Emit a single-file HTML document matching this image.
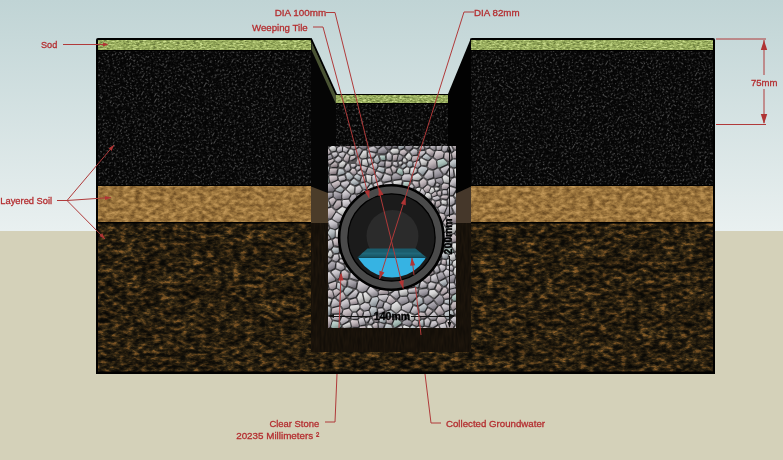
<!DOCTYPE html>
<html><head><meta charset="utf-8">
<style>
html,body{margin:0;padding:0;width:783px;height:460px;overflow:hidden;background:#d4d1b9;}
svg{display:block;}
text{font-family:"Liberation Sans",sans-serif;}
.lb{font-size:9.6px;fill:#b42e30;stroke:#b42e30;stroke-width:0.3;}
.rl{stroke:#b03a3a;stroke-width:1;fill:none;}
.ah{fill:#b03434;}
.bk{font-size:10px;font-weight:bold;fill:#000;stroke:#000;stroke-width:0.35;}
</style></head><body>
<svg width="783" height="460" viewBox="0 0 783 460">
<defs>
<linearGradient id="sky" x1="0" y1="0" x2="0" y2="1">
<stop offset="0" stop-color="#c0d4d5"/>
<stop offset="1" stop-color="#e9f0f0"/>
</linearGradient>
<filter id="fBlack" x="0" y="0" width="100%" height="100%" filterUnits="objectBoundingBox" color-interpolation-filters="sRGB">
 <feTurbulence type="fractalNoise" baseFrequency="0.6" numOctaves="1" seed="9" result="n"/>
 <feColorMatrix in="n" type="matrix" values="3 0 0 0 -1.1  3 0 0 0 -1.1  3 0 0 0 -1.1  0 0 0 0 1"/>
 <feComponentTransfer>
  <feFuncR type="table" tableValues="0.018 0.02 0.025 0.035 0.08 0.18 0.30"/>
  <feFuncG type="table" tableValues="0.018 0.02 0.025 0.035 0.08 0.18 0.30"/>
  <feFuncB type="table" tableValues="0.018 0.02 0.025 0.035 0.08 0.18 0.30"/>
 </feComponentTransfer>
 <feGaussianBlur stdDeviation="0.6"/>
</filter>
<filter id="fBrown" x="0" y="0" width="100%" height="100%" color-interpolation-filters="sRGB">
 <feTurbulence type="fractalNoise" baseFrequency="0.15 0.26" numOctaves="3" seed="11" result="n"/>
 <feColorMatrix in="n" type="matrix" values="1.9 0 0 0 -0.45  1.9 0 0 0 -0.45  1.9 0 0 0 -0.45  0 0 0 0 1"/>
 <feComponentTransfer>
  <feFuncR type="table" tableValues="0.05 0.07 0.10 0.14 0.19 0.25 0.34 0.44"/>
  <feFuncG type="table" tableValues="0.045 0.06 0.08 0.11 0.145 0.185 0.24 0.30"/>
  <feFuncB type="table" tableValues="0.03 0.035 0.045 0.055 0.07 0.085 0.11 0.13"/>
 </feComponentTransfer>
 <feGaussianBlur stdDeviation="0.7" result="t"/>
 <feTurbulence type="fractalNoise" baseFrequency="0.05 0.07" numOctaves="2" seed="21" result="m"/>
 <feColorMatrix in="m" type="matrix" values="0.8 0 0 0 0.3  0.8 0 0 0 0.3  0.8 0 0 0 0.3  0 0 0 0 1" result="m2"/>
 <feComposite in="t" in2="m2" operator="arithmetic" k1="1.42" k2="0" k3="0" k4="0"/>
</filter>
<filter id="fWood" x="0" y="0" width="100%" height="100%" color-interpolation-filters="sRGB">
 <feTurbulence type="fractalNoise" baseFrequency="0.5 0.08" numOctaves="2" seed="4" result="n"/>
 <feColorMatrix in="n" type="matrix" values="1.4 0 0 0 -0.2  1.4 0 0 0 -0.2  1.4 0 0 0 -0.2  0 0 0 0 1"/>
 <feComponentTransfer>
  <feFuncR type="table" tableValues="0.07 0.08 0.095 0.11 0.13"/>
  <feFuncG type="table" tableValues="0.05 0.06 0.07 0.08 0.095"/>
  <feFuncB type="table" tableValues="0.03 0.035 0.04 0.045 0.055"/>
 </feComponentTransfer>
 <feGaussianBlur stdDeviation="0.5"/>
</filter>
<filter id="fSand" x="0" y="0" width="100%" height="100%" color-interpolation-filters="sRGB">
 <feTurbulence type="fractalNoise" baseFrequency="0.17 0.26" numOctaves="3" seed="5" result="n"/>
 <feColorMatrix in="n" type="matrix" values="1.5 0 0 0 -0.25  1.5 0 0 0 -0.25  1.5 0 0 0 -0.25  0 0 0 0 1"/>
 <feComponentTransfer>
  <feFuncR type="table" tableValues="0.42 0.52 0.61 0.70 0.78"/>
  <feFuncG type="table" tableValues="0.30 0.38 0.46 0.54 0.61"/>
  <feFuncB type="table" tableValues="0.14 0.19 0.24 0.30 0.36"/>
 </feComponentTransfer>
 <feGaussianBlur stdDeviation="0.6"/>
</filter>
<filter id="fSod" x="0" y="0" width="100%" height="100%" color-interpolation-filters="sRGB">
 <feTurbulence type="fractalNoise" baseFrequency="0.3 0.7" numOctaves="3" seed="2" result="n"/>
 <feColorMatrix in="n" type="matrix" values="1.8 0 0 0 -0.4  1.8 0 0 0 -0.4  1.8 0 0 0 -0.4  0 0 0 0 1"/>
 <feComponentTransfer>
  <feFuncR type="table" tableValues="0.42 0.51 0.60 0.69 0.80"/>
  <feFuncG type="table" tableValues="0.49 0.59 0.68 0.77 0.87"/>
  <feFuncB type="table" tableValues="0.24 0.30 0.37 0.45 0.57"/>
 </feComponentTransfer>
 <feGaussianBlur stdDeviation="0.45"/>
</filter>
<linearGradient id="ga" x1="0.2" y1="0" x2="0.6" y2="1"><stop offset="0" stop-color="#e0dce0"/><stop offset="0.5" stop-color="#c0bcc2"/><stop offset="1" stop-color="#807d84"/></linearGradient>
<linearGradient id="gb" x1="0.2" y1="0" x2="0.6" y2="1"><stop offset="0" stop-color="#e0d6da"/><stop offset="0.5" stop-color="#bcb2b6"/><stop offset="1" stop-color="#827880"/></linearGradient>
<linearGradient id="gc" x1="0.2" y1="0" x2="0.6" y2="1"><stop offset="0" stop-color="#d4dade"/><stop offset="0.5" stop-color="#b2b8bc"/><stop offset="1" stop-color="#788086"/></linearGradient>
<linearGradient id="gd" x1="0.2" y1="0" x2="0.6" y2="1"><stop offset="0" stop-color="#ececec"/><stop offset="0.5" stop-color="#d0d0d0"/><stop offset="1" stop-color="#929292"/></linearGradient>
<linearGradient id="ge" x1="0.2" y1="0" x2="0.6" y2="1"><stop offset="0" stop-color="#c8ded8"/><stop offset="0.5" stop-color="#a8beb8"/><stop offset="1" stop-color="#728a84"/></linearGradient>
<linearGradient id="gf" x1="0.2" y1="0" x2="0.6" y2="1"><stop offset="0" stop-color="#bcb8be"/><stop offset="0.5" stop-color="#9e9aa2"/><stop offset="1" stop-color="#6a666e"/></linearGradient>
<linearGradient id="gg" x1="0.2" y1="0" x2="0.6" y2="1"><stop offset="0" stop-color="#d4c8cc"/><stop offset="0.5" stop-color="#b4aaae"/><stop offset="1" stop-color="#7a6e74"/></linearGradient>

<filter id="fSoft" x="-2%" y="-2%" width="104%" height="104%"><feGaussianBlur stdDeviation="0.45"/></filter>
<filter id="fNone" x="0" y="0" width="100%" height="100%"><feOffset dx="0" dy="0"/></filter>
<filter id="fGrav" x="-2%" y="-2%" width="104%" height="104%" color-interpolation-filters="sRGB">
 <feGaussianBlur in="SourceAlpha" stdDeviation="0.7" result="b"/>
 <feOffset in="b" dx="0.8" dy="1.0" result="o"/>
 <feFlood flood-color="#2a2a2c" result="c"/>
 <feComposite in="c" in2="o" operator="in" result="s"/>
 <feMerge result="m"><feMergeNode in="s"/><feMergeNode in="SourceGraphic"/></feMerge>
 <feGaussianBlur in="m" stdDeviation="0.4"/>
</filter>
<clipPath id="cBlack"><rect x="98" y="51" width="213" height="134"/><rect x="471" y="51" width="242" height="134"/><rect x="336" y="104" width="112" height="42"/></clipPath>
<clipPath id="cBrown"><rect x="98" y="223.5" width="213" height="148.5"/><rect x="471" y="223.5" width="242" height="148.5"/><rect x="311" y="351" width="160" height="21"/></clipPath>
<clipPath id="cGrav"><rect x="328" y="146" width="128" height="182"/></clipPath>
<clipPath id="cWater"><circle cx="392" cy="238.4" r="39"/></clipPath>
</defs>
<rect x="0" y="0" width="783" height="231" fill="url(#sky)"/>
<rect x="0" y="231" width="783" height="229" fill="#d4d1b9"/>

<!-- left block -->
<rect x="96" y="38" width="216" height="336" rx="2" fill="#000"/>
<rect x="98" y="40" width="213" height="10" filter="url(#fSod)"/>
<rect x="98" y="186" width="213" height="36" filter="url(#fSand)"/>
<!-- right block -->
<rect x="470" y="38" width="245" height="336" rx="2" fill="#000"/>
<rect x="471" y="40" width="242" height="10" filter="url(#fSod)"/>
<rect x="471" y="186" width="242" height="36" filter="url(#fSand)"/>
<!-- trench -->
<g clip-path="url(#cBrown)"><rect x="90" y="215" width="630" height="165" filter="url(#fBrown)"/></g>
<rect x="96" y="371.5" width="619" height="2.5" fill="#000"/>
<polygon points="311,38 336,94 336,352 311,352" fill="#050505"/>
<polygon points="471,38 448,94 448,352 471,352" fill="#020202"/>
<polygon points="311.5,41 336,95 336,104 311.5,50" fill="#4a5434"/>
<line x1="311" y1="38.5" x2="336.3" y2="94.5" stroke="#000" stroke-width="1.8"/>
<rect x="336" y="94" width="112" height="10" fill="#000"/>
<rect x="336" y="95" width="112" height="8" filter="url(#fSod)"/>
<g clip-path="url(#cBlack)"><g transform="rotate(30 400 110)"><rect x="0" y="-300" width="800" height="800" filter="url(#fBlack)"/></g></g>
<polygon points="311,186.5 328,193 328,223.5 311,223.5" fill="#4b3c29"/>
<polygon points="456,193.5 471,186.5 471,223.5 456,223.5" fill="#45372a"/>
<rect x="311" y="223" width="160" height="129" filter="url(#fWood)"/>
<!-- gravel -->
<rect x="328" y="146" width="128" height="182" fill="#555355"/>
<g clip-path="url(#cGrav)"><g filter="url(#fGrav)">
<path fill="url(#ga)" d="M403.7,236.1 404.3,236.9 405.3,236.9 409.0,233.6 409.1,232.4 407.7,230.7 406.5,230.6 403.3,232.8Z"/>
<path fill="url(#gc)" d="M452.2,134.8 451.3,135.3 451.1,136.3 452.4,138.8 453.6,139.1 455.7,136.5 455.8,135.6 455.0,134.9Z"/>
<path fill="url(#gd)" d="M437.2,231.3 438.2,230.1 437.9,225.5 436.7,224.7 434.9,225.4 433.6,228.8 435.3,231.2Z"/>
<path fill="url(#ga)" d="M349.1,164.6 348.2,163.9 347.3,164.2 344.8,168.2 344.9,169.1 346.4,171.1 348.9,170.8 350.4,168.5Z"/>
<path fill="url(#ga)" d="M359.6,192.8 362.0,189.7 360.0,185.9 359.0,185.4 355.7,187.2 355.4,192.4 356.6,193.6Z"/>
<path fill="url(#gb)" d="M451.0,296.4 450.7,295.5 447.9,293.1 443.8,295.4 443.4,296.2 444.2,298.2 445.1,298.7 450.2,298.1Z"/>
<path fill="url(#gc)" d="M318.6,169.2 317.5,168.8 316.7,169.8 316.7,178.1 317.6,179.1 318.5,178.8 322.6,174.5Z"/>
<path fill="url(#ga)" d="M435.4,262.5 435.8,263.8 438.6,264.5 440.1,263.4 440.5,261.2 439.6,260.4 436.7,260.4Z"/>
<path fill="url(#gb)" d="M438.5,221.9 439.5,222.6 442.0,222.0 445.0,218.1 445.2,216.5 443.7,214.3 440.0,213.4 436.6,215.9 436.4,216.9Z"/>
<path fill="url(#gc)" d="M384.3,222.8 384.1,224.0 385.8,225.7 387.9,225.3 389.1,220.1 388.9,219.2 387.4,219.0Z"/>
<path fill="url(#gd)" d="M359.2,303.2 360.5,303.9 363.2,302.5 363.7,301.6 361.9,293.5 360.3,292.8 359.3,293.3 357.2,297.6Z"/>
<path fill="url(#ga)" d="M357.8,170.4 360.0,168.8 359.9,166.6 359.2,166.2 357.1,166.2 355.9,168.1 356.8,170.0Z"/>
<path fill="url(#gb)" d="M351.8,320.1 350.8,321.3 352.3,326.8 358.2,327.1 359.0,325.6 357.6,320.5Z"/>
<path fill="url(#gc)" d="M384.3,317.3 385.4,316.2 384.4,313.7 380.2,314.7 379.5,315.4 380.3,317.2Z"/>
<path fill="url(#gb)" d="M386.5,273.3 387.4,273.7 392.1,272.6 393.3,269.9 393.3,269.0 390.0,266.5 386.9,268.1 386.0,272.1Z"/>
<path fill="url(#gc)" d="M399.7,142.4 398.8,143.2 398.4,147.8 399.3,149.1 400.1,149.4 403.7,147.8 404.3,144.6 401.7,142.3Z"/>
<path fill="url(#gg)" d="M467.3,268.0 466.4,266.9 462.9,267.6 462.1,271.6 462.4,272.5 465.8,274.2 466.9,274.0Z"/>
<path fill="url(#gb)" d="M434.3,252.7 435.3,253.9 440.8,253.6 443.0,250.9 442.8,248.6 441.3,246.7 439.2,246.4 434.9,249.5Z"/>
<path fill="url(#gf)" d="M409.4,294.0 408.6,294.5 408.0,296.3 410.2,300.9 411.4,301.6 412.4,301.3 417.8,295.1 416.9,293.7Z"/>
<path fill="url(#gb)" d="M467.3,169.7 466.3,168.6 463.1,169.1 461.7,174.6 462.1,175.6 465.8,177.2 467.0,176.9Z"/>
<path fill="url(#gb)" d="M350.4,330.3 349.5,329.1 345.2,329.4 344.6,330.4 345.1,332.9 346.6,333.9 349.7,333.0 350.3,332.3Z"/>
<path fill="url(#ga)" d="M332.1,315.1 331.1,316.3 332.8,319.6 338.1,320.7 339.1,320.1 340.9,316.0 340.0,314.7Z"/>
<path fill="url(#gd)" d="M409.7,153.5 408.2,153.3 405.6,156.4 405.8,157.2 408.6,160.2 410.6,159.6 411.6,156.4Z"/>
<path fill="url(#ge)" d="M322.5,210.0 323.7,208.5 322.0,201.2 318.0,199.2 317.1,199.3 316.5,200.3 316.6,210.3 317.7,210.9Z"/>
<path fill="url(#gb)" d="M324.4,145.0 325.6,144.3 326.3,140.5 324.6,138.7 321.4,140.5 320.9,141.4 322.8,144.4Z"/>
<path fill="url(#gd)" d="M391.9,304.8 391.3,309.1 395.9,312.8 397.0,312.7 400.7,309.3 400.8,306.0 397.2,301.7 396.1,301.7Z"/>
<path fill="url(#gg)" d="M387.6,317.7 386.5,318.6 386.8,322.5 391.4,323.7 393.8,319.1 393.7,318.1 392.9,317.5Z"/>
<path fill="url(#gb)" d="M450.1,337.9 451.0,339.2 454.0,339.1 454.9,338.4 455.3,334.0 452.4,331.5 451.0,332.1Z"/>
<path fill="url(#gf)" d="M406.4,262.6 409.3,265.3 411.1,265.6 414.9,262.3 415.3,261.4 410.1,256.1 409.2,255.8 405.8,258.7Z"/>
<path fill="url(#ga)" d="M396.9,269.1 394.4,270.0 393.6,272.9 395.5,275.1 396.5,275.4 397.3,274.5 397.7,270.0Z"/>
<path fill="url(#ga)" d="M387.6,276.5 388.3,277.5 394.0,278.7 394.9,278.4 395.4,277.4 395.1,276.5 392.2,273.8 388.1,274.6 387.5,275.2Z"/>
<path fill="url(#gc)" d="M354.9,248.4 353.6,248.6 350.7,252.5 354.7,256.3 358.3,254.8 358.9,251.4 358.4,250.5Z"/>
<path fill="url(#gd)" d="M319.5,325.9 317.6,325.7 316.9,326.6 316.9,338.2 317.8,339.1 319.9,339.1 320.7,338.5 322.3,329.0 322.0,328.0Z"/>
<path fill="url(#gb)" d="M346.1,257.9 346.8,259.2 351.8,260.6 352.7,260.1 353.6,257.5 349.6,253.3 348.5,253.0 346.9,254.3Z"/>
<path fill="url(#gg)" d="M422.2,207.8 422.4,206.4 417.7,202.1 415.4,202.1 413.5,203.7 412.9,207.7 417.4,211.0 418.5,210.9Z"/>
<path fill="url(#gb)" d="M341.4,238.9 343.2,244.3 344.8,244.7 351.9,241.9 352.7,240.7 352.4,239.2 344.4,235.7Z"/>
<path fill="url(#gb)" d="M366.6,138.7 367.6,139.9 371.8,139.0 372.3,138.1 371.7,135.4 370.9,134.9 367.4,135.0Z"/>
<path fill="url(#gc)" d="M317.1,287.9 319.1,287.5 322.2,283.1 321.7,282.3 317.5,279.9 316.5,280.9 316.5,287.0Z"/>
<path fill="url(#gf)" d="M438.6,279.4 439.9,280.2 444.7,277.6 444.7,276.6 442.4,272.6 440.7,272.4 437.4,274.3Z"/>
<path fill="url(#ga)" d="M343.4,218.9 343.8,218.0 343.4,217.1 336.7,212.7 335.8,213.1 332.6,218.3 333.0,219.3 338.2,222.4Z"/>
<path fill="url(#gd)" d="M359.5,305.9 358.4,304.8 351.2,305.4 350.4,306.0 349.8,308.0 352.6,311.4 355.9,311.4 359.4,308.0Z"/>
<path fill="url(#gf)" d="M448.6,291.4 448.9,292.3 451.9,294.8 456.2,292.6 456.7,291.7 456.0,289.2 455.1,288.6 449.3,289.9Z"/>
<path fill="url(#gf)" d="M390.9,208.0 392.2,208.0 393.7,205.9 392.7,201.4 389.4,200.0 387.1,201.4 386.2,204.3Z"/>
<path fill="url(#ga)" d="M444.5,142.9 443.1,143.6 442.2,149.8 442.6,150.6 444.5,151.8 446.6,150.8 448.4,145.1 447.9,144.1Z"/>
<path fill="url(#gg)" d="M419.1,158.4 419.0,157.4 417.6,156.0 413.3,156.3 412.4,157.0 411.8,160.0 412.9,161.3 413.8,161.5 418.4,159.6Z"/>
<path fill="url(#ga)" d="M424.4,175.9 424.5,177.3 427.3,179.2 432.6,177.5 433.1,176.6 432.6,171.0 428.6,169.9Z"/>
<path fill="url(#gf)" d="M327.1,193.7 327.8,198.2 328.6,198.4 332.3,196.5 332.7,195.8 332.4,193.1 331.6,192.7 327.5,192.9Z"/>
<path fill="url(#gd)" d="M396.5,227.6 398.1,227.8 402.1,222.9 401.8,221.8 399.0,219.6 396.6,221.0 395.8,226.3Z"/>
<path fill="url(#ge)" d="M401.1,321.9 396.2,318.0 395.5,318.4 392.8,324.1 394.4,327.3 395.3,327.2 401.3,323.2Z"/>
<path fill="url(#ga)" d="M448.1,189.4 449.0,194.5 450.1,195.3 452.8,194.9 455.9,189.6 455.3,188.5 450.5,186.9 449.6,187.2Z"/>
<path fill="url(#ga)" d="M373.3,321.5 371.6,319.0 370.5,319.5 369.1,322.5 369.5,323.7 371.3,324.0 373.1,322.4Z"/>
<path fill="url(#gg)" d="M412.9,273.3 413.6,272.8 413.6,271.8 411.3,267.0 409.7,266.6 406.6,271.1 406.6,272.1 408.9,274.1Z"/>
<path fill="url(#gc)" d="M324.9,305.9 324.0,306.1 320.6,309.6 320.4,310.9 326.7,315.5 329.3,315.4 330.4,313.9 330.6,308.1 329.6,307.0Z"/>
<path fill="url(#ga)" d="M376.4,217.4 379.7,217.2 381.6,214.2 380.6,211.9 379.8,211.4 378.5,211.7 375.6,215.6Z"/>
<path fill="url(#gf)" d="M359.2,134.9 358.1,136.0 359.0,139.6 364.6,139.1 365.1,136.0 364.7,135.1Z"/>
<path fill="url(#gb)" d="M336.7,296.7 336.6,298.2 340.4,301.0 345.3,297.9 345.8,297.0 343.0,292.6 342.2,292.2Z"/>
<path fill="url(#gf)" d="M442.0,178.8 440.9,178.0 436.6,178.9 435.9,179.7 436.2,181.4 440.8,183.9 441.7,183.9 443.0,182.3Z"/>
<path fill="url(#ga)" d="M370.6,165.3 370.1,166.2 370.5,167.0 375.2,169.6 376.2,169.2 377.5,166.3 377.0,164.3 374.5,163.0Z"/>
<path fill="url(#gc)" d="M465.9,293.9 461.9,295.9 462.0,296.8 465.3,301.5 466.7,301.6 467.2,300.7 467.0,294.4Z"/>
<path fill="url(#gd)" d="M402.8,275.3 402.7,276.3 404.5,279.2 406.3,279.3 407.6,275.6 407.4,274.7 404.9,272.9Z"/>
<path fill="url(#ga)" d="M410.3,181.0 411.5,180.1 411.3,176.1 409.6,174.3 404.2,174.5 402.5,176.2 402.1,179.0 402.9,180.3Z"/>
<path fill="url(#ga)" d="M413.3,188.2 413.6,186.6 412.1,184.5 410.8,184.4 409.3,186.9 409.4,188.0 411.0,189.4Z"/>
<path fill="url(#gd)" d="M419.7,332.6 420.9,332.0 421.6,327.9 421.0,327.1 418.7,326.4 417.1,327.4 416.3,331.4 417.1,332.3Z"/>
<path fill="url(#gc)" d="M336.4,188.9 336.0,189.7 336.4,190.7 341.0,192.4 341.9,192.1 343.8,189.5 343.4,188.7 340.4,186.2Z"/>
<path fill="url(#ga)" d="M380.9,281.4 381.8,281.4 385.9,279.3 386.6,277.5 386.4,274.5 385.4,273.3 379.1,273.8 378.2,274.3 377.9,279.7Z"/>
<path fill="url(#gc)" d="M372.8,297.8 372.0,298.4 369.7,303.5 371.3,306.0 375.2,306.5 375.9,305.8 378.6,299.1 377.1,297.0Z"/>
<path fill="url(#gf)" d="M326.1,156.5 325.5,157.9 327.5,159.7 331.7,158.5 332.3,157.7 331.2,155.4 330.5,154.8Z"/>
<path fill="url(#gb)" d="M459.2,240.1 463.3,241.7 463.9,240.9 464.9,235.9 464.1,234.8 463.2,235.0 458.9,238.7Z"/>
<path fill="url(#gd)" d="M349.5,137.2 350.6,140.9 351.3,141.6 356.2,140.9 357.1,140.3 356.5,135.5 355.8,134.7 350.5,134.7Z"/>
<path fill="url(#gd)" d="M411.6,247.2 409.9,249.3 410.8,251.3 417.7,251.2 418.5,250.7 418.6,249.7 416.8,246.8Z"/>
<path fill="url(#ga)" d="M360.5,307.3 360.9,308.1 364.4,310.7 368.5,309.7 370.1,306.4 368.5,303.7 364.7,303.1 360.7,305.2Z"/>
<path fill="url(#gg)" d="M445.5,152.8 444.8,153.6 444.4,157.8 447.9,161.1 449.1,161.3 451.6,158.6 450.9,154.1 447.2,152.4Z"/>
<path fill="url(#gd)" d="M417.2,188.1 416.4,188.9 416.0,192.7 416.7,193.5 418.2,193.6 418.9,193.1 420.6,188.7 419.5,187.7Z"/>
<path fill="url(#gb)" d="M333.8,290.1 333.3,291.3 334.5,295.4 335.2,296.0 336.2,295.8 340.1,292.0 339.8,291.0 336.7,289.0Z"/>
<path fill="url(#gc)" d="M442.5,257.7 443.3,258.5 446.5,258.8 447.6,257.9 448.0,255.0 444.6,252.4 443.5,252.3 442.0,254.4Z"/>
<path fill="url(#gd)" d="M460.9,193.7 460.4,192.8 457.0,191.3 454.4,195.1 454.3,196.0 456.1,197.8 460.3,196.7 460.9,195.9Z"/>
<path fill="url(#gd)" d="M453.4,261.4 452.5,264.3 454.2,266.6 455.1,266.7 459.3,265.0 458.4,261.0 456.1,260.1Z"/>
<path fill="url(#gb)" d="M407.2,227.0 404.5,223.4 403.6,223.6 399.3,228.8 399.5,230.0 401.6,231.5 402.6,231.5 407.0,228.5Z"/>
<path fill="url(#gb)" d="M331.7,312.4 332.7,313.6 341.0,313.2 341.8,312.5 342.4,309.9 340.2,307.1 339.2,306.8 332.3,308.5Z"/>
<path fill="url(#ga)" d="M342.4,193.3 342.3,198.0 343.2,198.9 348.3,198.4 350.4,194.9 350.1,194.0 345.8,190.3 344.8,190.6Z"/>
<path fill="url(#gb)" d="M457.4,286.7 456.7,287.8 457.8,292.0 460.5,294.2 467.5,291.5 467.6,284.7 467.0,283.9 464.4,283.7Z"/>
<path fill="url(#gd)" d="M399.0,265.3 400.4,266.0 405.1,263.1 405.4,262.2 404.5,258.9 401.3,258.1 397.8,261.1 397.6,262.1Z"/>
<path fill="url(#gb)" d="M339.4,279.7 339.1,281.2 344.2,286.2 345.1,286.5 346.1,286.0 346.7,281.3 346.3,280.5 340.3,279.3Z"/>
<path fill="url(#gf)" d="M448.8,206.4 447.7,207.0 445.0,213.4 445.1,214.2 446.2,215.3 452.2,213.5 452.9,212.8 450.8,207.1Z"/>
<path fill="url(#gc)" d="M416.8,287.5 418.3,287.0 419.6,281.5 419.1,280.6 416.2,279.2 413.6,281.2 413.3,282.1 415.3,286.5Z"/>
<path fill="url(#gc)" d="M398.3,276.4 396.6,277.5 396.0,279.6 396.2,280.5 401.5,281.9 402.5,281.7 403.4,280.0 401.5,276.9Z"/>
<path fill="url(#ga)" d="M373.4,214.3 374.5,214.0 376.5,211.0 375.9,210.2 372.7,208.5 371.1,209.8 371.3,212.9 371.8,213.7Z"/>
<path fill="url(#gc)" d="M378.9,139.5 378.9,140.9 382.0,143.6 383.6,143.5 384.2,141.6 381.5,138.2 380.3,138.0Z"/>
<path fill="url(#gc)" d="M353.2,328.4 352.1,329.2 351.9,332.9 353.3,334.5 354.1,334.8 358.2,332.3 358.6,331.3 357.4,328.6Z"/>
<path fill="url(#gb)" d="M323.2,281.7 324.4,281.8 325.1,281.0 325.2,274.4 324.4,274.0 317.2,274.0 316.8,274.9 317.1,277.7Z"/>
<path fill="url(#ga)" d="M452.9,176.9 453.7,175.8 452.7,169.1 450.8,167.9 450.1,168.5 447.2,174.3 451.1,177.2Z"/>
<path fill="url(#gd)" d="M386.4,281.4 385.2,281.0 382.3,282.5 382.7,286.3 383.2,287.1 386.6,287.8 388.3,285.4 388.4,284.4Z"/>
<path fill="url(#ga)" d="M403.4,188.7 401.1,186.9 399.3,187.6 397.3,192.1 397.3,193.1 399.0,194.9 399.9,194.8 403.3,192.2Z"/>
<path fill="url(#gd)" d="M361.2,229.4 358.3,231.7 358.7,232.6 364.1,236.2 365.5,235.9 366.1,232.6 363.9,229.8Z"/>
<path fill="url(#gb)" d="M427.0,314.9 427.8,315.5 428.6,315.3 432.1,311.5 431.7,310.4 428.5,308.4 427.4,308.8 425.7,312.0Z"/>
<path fill="url(#ga)" d="M318.0,220.7 316.7,221.6 316.8,226.4 317.5,227.1 320.6,227.6 324.3,223.6 324.5,222.6 323.8,221.9Z"/>
<path fill="url(#gc)" d="M378.5,194.8 378.0,192.7 375.6,191.7 370.5,194.1 370.0,194.8 369.4,198.6 373.1,200.9 374.8,200.4Z"/>
<path fill="url(#gb)" d="M318.3,184.4 317.2,184.4 316.7,185.2 316.7,194.0 317.7,195.0 323.7,189.9 323.0,186.7Z"/>
<path fill="url(#gd)" d="M334.0,145.7 332.8,145.5 329.5,147.5 329.5,148.5 331.8,151.4 335.2,150.8 335.8,150.2 336.0,147.8Z"/>
<path fill="url(#gd)" d="M461.2,176.7 460.2,176.8 458.0,178.4 459.3,183.4 460.1,183.8 467.0,183.6 467.4,182.7 467.1,179.4Z"/>
<path fill="url(#ga)" d="M413.2,194.0 415.0,193.1 415.3,190.2 414.5,189.2 413.6,189.4 411.4,191.1 411.6,193.1Z"/>
<path fill="url(#gc)" d="M382.7,172.4 384.2,171.7 384.4,168.1 379.3,167.1 378.4,167.4 377.4,169.3 377.6,170.3Z"/>
<path fill="url(#gf)" d="M393.9,142.3 393.1,143.2 393.1,146.8 393.9,147.3 396.6,147.3 397.1,146.5 397.2,142.5 395.9,141.7Z"/>
<path fill="url(#gd)" d="M447.0,231.6 451.0,234.1 454.2,232.9 457.1,227.8 456.5,224.6 453.7,224.5 447.3,228.7Z"/>
<path fill="url(#gd)" d="M370.6,175.6 366.6,174.9 366.2,175.7 367.1,181.3 369.8,183.1 370.7,183.2 371.4,182.2 371.2,176.3Z"/>
<path fill="url(#gb)" d="M405.1,280.9 403.0,282.9 403.2,286.7 403.7,287.4 406.9,288.4 407.7,287.6 408.5,282.3 406.9,280.8Z"/>
<path fill="url(#gc)" d="M423.4,320.8 422.9,320.0 422.0,319.8 419.5,321.5 419.4,324.5 419.8,325.3 422.3,326.3 423.5,325.8Z"/>
<path fill="url(#gc)" d="M372.2,185.1 371.5,184.5 370.4,184.7 367.1,189.3 367.3,190.3 369.5,192.6 374.2,190.3Z"/>
<path fill="url(#gb)" d="M396.5,241.7 395.4,242.7 395.6,249.4 396.7,250.7 398.2,250.9 401.8,248.0 402.1,247.0 400.3,241.9Z"/>
<path fill="url(#gb)" d="M428.5,235.6 427.6,235.9 427.2,236.8 428.1,241.2 429.2,241.9 432.7,240.1 433.1,239.1 432.0,236.3Z"/>
<path fill="url(#gb)" d="M453.7,142.5 452.8,142.5 451.9,143.3 451.8,144.6 454.9,149.5 457.8,149.6 458.3,148.8 458.3,144.7Z"/>
<path fill="url(#ga)" d="M341.2,160.3 341.4,158.8 338.6,156.6 337.7,156.8 335.2,159.3 335.5,160.4 338.1,162.3Z"/>
<path fill="url(#ga)" d="M459.3,320.6 460.5,321.1 463.0,319.5 461.7,314.9 461.0,314.2 457.5,314.7 456.7,315.5Z"/>
<path fill="url(#ga)" d="M317.5,235.0 321.5,234.7 322.4,233.0 320.7,229.5 320.0,228.9 317.1,228.6 316.6,229.4 316.7,234.4Z"/>
<path fill="url(#gf)" d="M424.5,302.3 426.4,303.9 427.3,304.0 432.5,300.5 432.9,299.3 428.8,295.9 427.9,295.8 424.0,298.2Z"/>
<path fill="url(#ga)" d="M440.2,150.0 441.3,149.2 441.9,143.6 441.1,142.9 437.3,142.7 436.6,143.6 436.8,149.4 437.6,150.1Z"/>
<path fill="url(#ga)" d="M332.3,259.2 335.8,261.4 337.4,261.0 338.9,258.5 338.2,254.9 337.3,254.5 334.2,254.9Z"/>
<path fill="url(#ga)" d="M378.0,309.6 378.6,313.0 379.5,313.2 383.7,311.9 384.2,310.8 382.4,308.5 378.9,308.8Z"/>
<path fill="url(#gb)" d="M443.8,312.6 443.7,311.7 440.0,306.1 438.5,306.4 435.3,310.7 435.4,311.6 438.4,315.1 442.8,314.4Z"/>
<path fill="url(#gb)" d="M316.4,136.5 317.0,137.4 318.1,137.4 319.0,135.8 318.8,134.9 316.9,134.6Z"/>
<path fill="url(#gd)" d="M404.2,238.7 403.3,239.1 401.6,241.2 403.4,246.9 404.1,247.6 408.5,248.4 410.0,246.2 409.7,241.7Z"/>
<path fill="url(#gb)" d="M431.7,213.0 432.0,214.4 435.2,215.0 438.3,212.9 438.6,212.0 437.1,208.7 434.9,208.0Z"/>
<path fill="url(#ga)" d="M395.8,290.2 390.9,293.9 391.1,294.8 396.2,298.7 397.3,298.5 399.0,296.3 398.0,291.1 396.7,290.2Z"/>
<path fill="url(#gb)" d="M427.0,149.4 426.3,150.4 426.8,152.7 431.4,156.2 432.6,156.2 434.0,152.5 433.8,151.6 429.6,148.7Z"/>
<path fill="url(#gd)" d="M354.4,187.5 353.9,186.6 350.2,184.7 347.0,188.5 346.8,189.4 351.0,193.4 352.0,193.7 354.1,192.6Z"/>
<path fill="url(#ga)" d="M340.9,305.3 343.4,308.7 348.4,307.4 349.5,304.9 348.2,299.9 346.3,299.0 341.5,302.1Z"/>
<path fill="url(#gd)" d="M366.7,237.3 367.6,238.6 371.7,238.3 374.8,232.1 374.6,231.0 372.6,230.3 367.8,232.7Z"/>
<path fill="url(#gc)" d="M342.6,228.5 344.0,228.1 345.8,222.6 345.2,220.6 344.6,220.1 343.6,220.3 339.3,223.8 339.6,227.0Z"/>
<path fill="url(#gg)" d="M370.2,335.7 369.3,333.5 367.1,332.4 363.5,333.8 362.9,334.6 363.5,338.5 364.4,339.2 369.1,339.0Z"/>
<path fill="url(#gc)" d="M463.5,199.9 461.2,198.2 456.6,199.5 456.2,200.4 456.4,202.9 459.2,204.4 460.2,204.2 463.6,200.8Z"/>
<path fill="url(#gb)" d="M404.5,143.0 405.6,143.1 408.2,141.5 407.5,135.3 406.7,134.5 404.7,134.5 404.0,135.0 402.4,140.6 402.7,141.7Z"/>
<path fill="url(#gf)" d="M364.9,214.6 362.8,215.5 362.8,218.0 363.7,218.4 367.8,217.7 368.4,216.4 368.1,215.5Z"/>
<path fill="url(#gb)" d="M356.3,162.8 357.3,164.7 360.6,164.8 361.1,164.0 361.2,159.7 358.9,158.0 357.9,158.0Z"/>
<path fill="url(#gd)" d="M460.1,150.1 459.0,151.2 460.6,157.4 461.6,157.6 467.4,156.3 467.6,151.3 467.2,150.5Z"/>
<path fill="url(#gd)" d="M386.7,253.9 388.1,250.2 386.4,247.6 385.3,247.5 381.0,250.1 380.8,253.3 383.1,255.3 384.1,255.4Z"/>
<path fill="url(#gc)" d="M463.6,330.5 462.1,332.2 462.0,333.2 464.3,339.1 466.7,339.5 467.5,338.5 467.5,330.8 466.5,330.0Z"/>
<path fill="url(#gb)" d="M393.4,259.1 394.1,260.0 396.5,260.4 399.9,257.5 400.0,256.5 397.9,252.5 396.5,252.6 393.4,257.0Z"/>
<path fill="url(#gb)" d="M391.5,262.2 390.6,265.6 393.8,268.2 394.7,268.4 398.2,267.4 398.4,266.4 396.3,261.8 393.2,261.1Z"/>
<path fill="url(#ga)" d="M448.2,199.8 448.6,204.1 449.2,204.9 451.3,205.2 454.5,202.9 454.7,199.3 452.6,196.7 449.9,196.8Z"/>
<path fill="url(#gb)" d="M433.7,250.1 433.3,249.1 428.1,245.8 427.1,246.2 425.5,249.1 428.1,254.2 428.9,254.7 433.0,253.7Z"/>
<path fill="url(#gd)" d="M400.2,294.9 401.2,295.8 406.7,295.4 407.7,293.3 407.1,290.0 402.8,288.2 399.7,290.0 399.3,291.0Z"/>
<path fill="url(#gf)" d="M380.5,255.0 379.4,254.8 374.6,257.1 376.3,263.0 376.9,263.7 380.4,263.0 382.9,258.9 382.7,256.8Z"/>
<path fill="url(#gc)" d="M445.6,299.9 444.7,300.7 444.7,302.6 449.1,304.3 450.2,304.1 451.5,301.7 450.3,299.5Z"/>
<path fill="url(#gd)" d="M370.7,249.8 370.2,250.8 371.0,254.5 373.0,255.7 379.0,253.6 379.6,253.0 379.6,249.8 376.4,246.6 375.4,246.6Z"/>
<path fill="url(#gd)" d="M459.6,175.6 461.4,169.1 461.2,168.2 459.9,167.5 454.8,168.7 454.3,169.6 455.4,176.3 457.1,176.9Z"/>
<path fill="url(#gd)" d="M331.0,251.0 330.1,250.4 329.2,250.9 327.5,255.0 328.0,256.0 330.5,257.2 331.4,256.8 332.7,254.2Z"/>
<path fill="url(#gc)" d="M383.9,232.7 384.0,231.6 383.1,231.0 378.9,231.7 378.2,232.7 380.1,235.8 381.0,236.2 381.8,235.8Z"/>
<path fill="url(#gb)" d="M393.2,166.2 392.0,166.3 391.3,167.7 393.2,171.9 394.3,172.4 395.5,171.7 396.7,168.6Z"/>
<path fill="url(#ga)" d="M464.9,257.1 460.0,261.1 460.8,265.0 462.2,266.2 466.7,265.6 467.4,264.9 467.4,257.9 466.7,257.1Z"/>
<path fill="url(#gb)" d="M356.4,299.3 355.3,298.6 350.4,299.9 349.9,300.9 350.8,303.9 351.6,304.4 357.2,303.7 357.6,302.7Z"/>
<path fill="url(#ge)" d="M438.0,166.6 438.6,167.4 439.5,167.5 447.1,164.1 447.5,162.7 443.3,158.8 438.1,160.3 437.4,161.3Z"/>
<path fill="url(#gd)" d="M418.4,245.1 419.9,248.8 420.8,249.3 424.3,248.5 426.2,245.3 425.5,244.3 420.1,242.5 419.2,243.0Z"/>
<path fill="url(#ga)" d="M419.9,286.6 420.8,287.9 426.0,287.3 426.7,286.5 426.8,284.2 422.7,281.3 421.6,281.3 421.0,282.0Z"/>
<path fill="url(#ga)" d="M412.5,209.1 411.1,209.3 408.2,213.9 409.3,217.2 410.0,217.8 412.5,217.9 416.5,212.9 416.2,211.7Z"/>
<path fill="url(#gg)" d="M457.3,188.0 457.5,189.4 462.0,191.8 467.2,189.2 467.4,185.9 466.4,185.0 459.5,185.0Z"/>
<path fill="url(#gd)" d="M372.0,207.3 372.8,202.6 372.2,201.7 368.0,199.6 366.7,200.1 364.0,203.0 364.3,206.0 366.4,207.9 369.8,208.7Z"/>
<path fill="url(#gb)" d="M372.0,240.1 367.1,240.0 365.5,242.4 365.9,246.1 369.3,248.7 370.2,248.5 375.4,244.8 375.3,242.5Z"/>
<path fill="url(#gb)" d="M345.3,270.4 344.3,270.2 341.9,271.6 340.9,277.1 341.7,277.9 347.3,278.7 348.3,277.8 348.6,273.3Z"/>
<path fill="url(#gb)" d="M325.1,245.8 324.1,245.2 320.7,246.0 320.5,247.0 321.8,249.7 322.9,249.9 325.7,248.4 325.9,247.5Z"/>
<path fill="url(#gb)" d="M343.8,158.5 344.1,159.9 346.8,161.7 347.8,161.7 348.3,160.9 349.3,156.0 347.4,154.2 346.4,154.2Z"/>
<path fill="url(#gg)" d="M458.0,306.3 458.3,305.0 456.9,302.5 456.0,302.0 452.9,302.2 451.0,305.8 451.7,309.0 453.1,309.9Z"/>
<path fill="url(#ga)" d="M440.5,324.4 439.8,325.7 441.9,331.1 443.0,331.3 446.6,329.5 446.8,328.5 445.1,323.6 444.2,323.4Z"/>
<path fill="url(#ga)" d="M332.8,152.7 332.0,154.1 333.9,157.1 335.0,157.1 337.5,154.9 337.4,153.4 336.2,152.2Z"/>
<path fill="url(#ge)" d="M407.2,186.9 409.3,183.7 409.2,182.6 408.4,182.1 403.6,182.0 402.9,186.2 404.4,187.3Z"/>
<path fill="url(#gb)" d="M385.6,171.7 386.1,172.8 390.6,174.6 391.6,174.4 392.2,173.5 390.3,168.9 389.6,168.2 386.3,168.9Z"/>
<path fill="url(#ga)" d="M412.4,305.3 411.7,303.2 409.4,302.4 402.2,306.1 401.8,309.0 408.5,312.5 409.4,311.9Z"/>
<path fill="url(#gb)" d="M417.7,325.7 418.3,324.8 417.9,321.5 414.8,320.3 412.8,321.9 412.5,323.5 412.9,324.2 416.4,326.0Z"/>
<path fill="url(#gf)" d="M359.5,141.3 358.5,142.4 359.5,146.8 363.0,149.1 366.0,148.7 366.7,147.1 365.6,141.3 364.8,140.9Z"/>
<path fill="url(#gg)" d="M467.0,201.5 465.1,201.5 460.8,206.0 462.3,210.9 466.3,211.9 467.3,210.9 467.4,202.4Z"/>
<path fill="url(#ga)" d="M382.2,179.6 382.4,180.7 383.9,181.8 390.3,180.4 391.1,179.5 390.8,176.7 390.2,176.0 384.8,174.1Z"/>
<path fill="url(#ga)" d="M410.8,232.3 413.8,232.8 414.3,232.0 413.6,227.3 412.6,226.9 408.7,227.7 408.4,229.2Z"/>
<path fill="url(#gf)" d="M402.6,323.0 403.2,324.0 409.2,326.1 411.7,323.8 411.4,321.8 406.9,319.1 402.9,321.7Z"/>
<path fill="url(#ga)" d="M344.8,146.9 343.8,146.8 343.2,147.4 343.1,150.7 346.4,152.6 348.3,149.3Z"/>
<path fill="url(#gc)" d="M319.8,166.0 318.8,166.5 318.7,167.6 323.9,173.8 327.8,173.8 329.1,168.0 328.6,166.8Z"/>
<path fill="url(#ga)" d="M377.2,233.5 376.3,233.0 375.4,233.5 373.0,238.4 373.4,239.3 376.5,241.4 380.0,239.6 380.5,238.8Z"/>
<path fill="url(#ga)" d="M429.7,243.4 429.2,244.1 429.4,245.0 433.9,248.0 434.8,247.9 437.8,245.5 437.7,244.6 434.8,241.0Z"/>
<path fill="url(#gb)" d="M439.0,284.2 437.4,284.3 435.7,288.7 438.7,291.8 439.6,291.3 441.7,287.2Z"/>
<path fill="url(#gb)" d="M419.7,223.0 419.6,224.3 422.4,227.1 425.5,226.6 426.5,224.3 423.2,219.9 422.2,220.2Z"/>
<path fill="url(#gg)" d="M331.1,165.1 330.8,166.2 331.6,166.9 336.6,166.9 337.5,166.0 337.3,163.8 334.9,162.0Z"/>
<path fill="url(#ga)" d="M452.9,206.0 452.5,207.2 455.0,213.1 456.8,213.7 460.4,211.4 460.5,210.5 459.0,206.0 455.5,204.5Z"/>
<path fill="url(#ga)" d="M436.8,333.9 434.7,338.6 435.3,339.3 438.1,339.0 439.0,334.7 438.7,333.9Z"/>
<path fill="url(#ga)" d="M446.9,286.0 446.9,287.0 448.8,289.0 455.0,287.6 455.7,286.6 454.1,283.7 453.3,283.3 448.5,283.4Z"/>
<path fill="url(#gg)" d="M394.0,154.9 393.0,155.7 392.9,159.9 393.7,160.6 395.9,160.4 396.6,159.7 397.6,155.4 396.7,154.7Z"/>
<path fill="url(#ge)" d="M451.9,298.2 453.6,300.7 456.7,300.5 459.7,296.3 459.6,295.1 457.2,293.6 452.6,296.0Z"/>
<path fill="url(#gb)" d="M318.7,196.4 318.3,197.3 318.6,198.0 322.0,199.6 325.3,198.5 325.8,197.6 325.4,192.4 323.9,192.0Z"/>
<path fill="url(#gb)" d="M316.6,296.4 317.2,297.4 318.3,297.3 321.8,292.9 321.6,291.9 318.6,289.0 317.2,289.1 316.6,289.8Z"/>
<path fill="url(#gb)" d="M319.0,138.3 319.3,139.6 320.6,139.6 324.0,137.2 323.9,135.0 323.1,134.5 320.6,134.7Z"/>
<path fill="url(#ga)" d="M351.5,317.5 351.7,318.6 352.6,319.0 357.3,318.9 358.3,317.8 356.1,313.1 355.2,312.6 352.9,313.1Z"/>
<path fill="url(#gb)" d="M353.2,174.6 354.3,174.8 356.0,173.6 356.5,171.9 354.6,168.9 352.2,168.8 350.3,171.6Z"/>
<path fill="url(#gc)" d="M345.8,227.7 346.0,228.8 346.9,229.2 352.0,228.4 352.8,227.3 352.2,225.8 347.9,223.7 347.0,224.3Z"/>
<path fill="url(#ga)" d="M401.6,266.7 401.1,267.5 401.3,268.4 404.7,270.9 405.5,270.4 407.9,266.1 405.8,264.4Z"/>
<path fill="url(#gb)" d="M318.9,243.0 318.7,244.0 319.5,244.7 324.2,244.2 324.9,243.6 325.5,241.5 323.1,239.4 322.2,239.2Z"/>
<path fill="url(#gd)" d="M408.1,173.3 409.0,172.5 409.2,168.8 408.7,168.1 407.0,167.3 404.0,169.3 403.6,170.3 404.5,173.3Z"/>
<path fill="url(#gd)" d="M345.5,163.7 345.4,162.4 342.7,161.1 339.3,163.8 339.2,166.4 339.9,167.1 343.0,167.4Z"/>
<path fill="url(#ga)" d="M423.1,189.5 422.2,189.1 421.3,189.5 419.5,193.6 421.4,196.5 423.8,196.2 425.2,193.1Z"/>
<path fill="url(#gf)" d="M319.2,141.9 317.3,141.6 316.8,142.4 316.8,146.7 317.9,147.6 320.7,145.8 321.1,145.0Z"/>
<path fill="url(#gb)" d="M360.8,180.7 361.0,181.6 361.8,182.1 365.5,181.3 365.7,180.4 364.8,176.3 363.8,176.0 362.3,176.8Z"/>
<path fill="url(#gc)" d="M453.2,159.4 449.3,163.1 449.3,164.0 450.7,166.1 453.6,167.5 459.5,166.1 459.8,165.2 459.1,159.7Z"/>
<path fill="url(#gb)" d="M398.2,230.8 396.8,230.9 393.1,235.5 395.5,240.1 400.4,240.0 402.4,237.9 401.3,233.1Z"/>
<path fill="url(#ga)" d="M439.0,207.4 438.6,208.5 440.3,212.2 443.0,213.1 443.9,212.9 446.2,207.4 446.0,206.4 441.6,205.4Z"/>
<path fill="url(#ge)" d="M418.6,253.4 417.6,252.5 411.1,252.7 410.3,253.2 410.0,254.5 416.2,260.7 417.1,261.0 418.8,260.7 419.7,259.6Z"/>
<path fill="url(#gg)" d="M410.2,191.2 407.9,188.5 405.4,188.8 404.6,189.5 404.8,192.3 407.8,194.4 410.0,193.4Z"/>
<path fill="url(#gb)" d="M344.7,139.0 343.9,140.0 344.7,143.0 345.6,143.0 349.2,141.2 348.2,138.3Z"/>
<path fill="url(#gc)" d="M405.9,201.1 405.3,201.9 405.4,205.4 410.1,207.3 411.1,207.1 412.0,204.2 411.7,203.3 407.6,200.6Z"/>
<path fill="url(#gb)" d="M320.1,287.6 320.1,289.0 323.5,292.1 325.7,292.1 328.5,288.8 327.5,284.0 325.8,282.8 323.6,283.4Z"/>
<path fill="url(#gd)" d="M436.2,187.5 435.2,187.8 434.9,188.7 435.7,190.4 436.6,190.8 438.6,189.8 439.0,188.9 438.5,188.0Z"/>
<path fill="url(#ga)" d="M457.6,222.2 458.8,223.2 467.1,221.8 467.1,213.5 461.8,212.4 457.6,214.9Z"/>
<path fill="url(#gb)" d="M440.8,292.6 441.0,293.9 442.8,294.4 446.9,291.8 447.2,289.7 445.7,287.7 443.7,287.7Z"/>
<path fill="url(#gc)" d="M326.1,220.9 327.2,220.6 327.4,219.5 323.0,211.7 322.0,211.4 317.0,212.5 317.1,218.8Z"/>
<path fill="url(#ga)" d="M363.5,315.7 363.7,316.6 364.5,317.0 369.9,315.9 370.3,314.8 368.9,311.3 367.9,310.9 364.4,311.8Z"/>
<path fill="url(#ga)" d="M363.4,318.3 362.5,317.7 359.9,318.3 358.6,319.6 359.6,324.4 360.2,325.2 364.9,324.6 365.6,324.0Z"/>
<path fill="url(#gb)" d="M329.9,199.1 329.3,200.3 331.0,204.6 332.4,205.3 335.5,200.5 335.5,199.5 333.2,197.6Z"/>
<path fill="url(#gb)" d="M412.4,282.8 411.4,282.2 409.7,282.8 409.0,286.6 409.5,287.6 413.6,286.6 413.7,285.7Z"/>
<path fill="url(#ga)" d="M432.6,186.2 433.6,185.6 435.0,182.0 434.6,179.6 433.7,178.9 428.8,180.5 428.1,181.3 428.5,184.1 431.1,186.1Z"/>
<path fill="url(#gd)" d="M366.7,165.9 367.7,165.7 368.1,164.8 366.6,159.7 365.7,159.2 362.8,159.8 362.3,160.7 362.2,164.5Z"/>
<path fill="url(#gb)" d="M446.4,226.8 447.8,227.1 451.3,224.8 451.7,223.9 451.3,223.1 446.0,219.4 445.1,219.8 443.4,222.5Z"/>
<path fill="url(#gc)" d="M435.7,258.2 436.7,259.0 440.8,258.8 441.4,257.9 440.9,255.4 440.0,254.8 435.7,255.1 435.1,256.0Z"/>
<path fill="url(#ge)" d="M341.0,325.9 338.9,322.3 333.3,321.3 332.4,322.0 331.1,326.8 331.8,327.7 336.6,329.2 340.6,326.7Z"/>
<path fill="url(#gb)" d="M433.5,158.7 432.3,158.6 429.1,161.4 427.9,166.2 429.0,168.0 433.1,169.2 436.1,167.7 436.6,166.8 435.9,160.7Z"/>
<path fill="url(#gf)" d="M447.3,277.5 446.6,278.7 448.4,282.4 453.0,282.5 453.8,282.1 455.0,276.5 454.1,275.2 453.1,275.0Z"/>
<path fill="url(#gc)" d="M345.0,233.9 345.6,234.8 352.3,237.6 353.0,237.0 355.5,231.8 353.3,229.5 345.7,230.6 344.9,231.4Z"/>
<path fill="url(#gd)" d="M405.2,158.5 403.6,158.3 402.8,160.4 403.8,162.2 405.3,162.6 406.1,162.2 406.9,160.9Z"/>
<path fill="url(#gb)" d="M413.7,334.5 413.1,333.3 409.7,332.4 406.0,334.9 406.2,338.6 407.0,339.2 412.7,339.1 413.3,338.3Z"/>
<path fill="url(#gb)" d="M414.5,275.5 413.4,274.6 409.5,275.6 408.1,279.2 408.3,280.1 409.7,280.9 412.3,280.6 414.9,278.1Z"/>
<path fill="url(#gb)" d="M333.5,161.0 333.8,159.9 332.9,159.1 328.7,160.4 328.2,161.4 328.8,163.7 330.3,164.1Z"/>
<path fill="url(#gd)" d="M418.5,315.3 417.5,314.8 415.7,315.6 415.3,318.7 415.8,319.5 418.5,320.6 420.2,319.5 420.5,318.7Z"/>
<path fill="url(#ga)" d="M417.4,151.3 416.6,149.7 413.7,148.7 410.8,151.3 410.4,152.2 412.6,154.9 416.3,154.7 417.3,153.9Z"/>
<path fill="url(#gb)" d="M436.4,159.3 437.3,159.5 442.8,157.6 443.6,153.3 443.3,152.4 441.2,151.0 436.6,151.1 435.5,151.7 433.9,156.9Z"/>
<path fill="url(#gg)" d="M436.7,201.4 436.1,202.1 435.6,205.8 436.1,206.6 437.6,207.0 440.2,205.0 440.5,204.0 439.4,200.8Z"/>
<path fill="url(#gg)" d="M365.7,326.9 364.7,325.9 360.0,326.8 359.4,328.2 360.6,331.7 362.2,332.4 365.7,330.9Z"/>
<path fill="url(#gc)" d="M422.0,142.3 423.3,142.9 427.5,141.0 427.5,139.9 425.5,137.0 424.0,137.3 421.8,141.1Z"/>
<path fill="url(#gb)" d="M450.1,330.0 452.1,329.5 454.1,325.3 449.6,320.5 447.7,320.4 446.1,322.9 448.1,329.0Z"/>
<path fill="url(#gd)" d="M454.6,254.0 453.3,253.1 449.4,254.9 448.7,257.6 448.9,258.6 452.4,260.7 455.2,259.4 455.6,258.4Z"/>
<path fill="url(#ga)" d="M336.9,150.3 338.6,152.3 341.6,151.2 342.1,150.4 341.9,146.7 340.7,146.3 337.5,147.8Z"/>
<path fill="url(#gb)" d="M318.9,246.0 317.1,245.4 316.5,246.2 316.5,252.7 317.5,253.7 320.1,253.3 321.0,251.3Z"/>
<path fill="url(#ga)" d="M416.8,224.5 415.1,226.3 415.6,231.6 416.3,232.4 418.9,232.7 419.6,232.1 420.9,228.0 418.1,224.8Z"/>
<path fill="url(#gf)" d="M348.0,251.2 348.7,251.8 349.6,251.7 353.2,247.4 352.0,243.3 351.1,243.2 345.8,245.6Z"/>
<path fill="url(#gc)" d="M396.7,288.2 398.9,289.0 401.5,287.2 401.6,284.1 400.8,283.2 396.6,282.4 395.8,282.9 395.2,284.6Z"/>
<path fill="url(#ga)" d="M461.9,273.8 461.0,273.8 459.0,275.1 458.7,276.5 464.6,282.3 466.8,282.5 467.3,281.6 467.2,276.6Z"/>
<path fill="url(#gd)" d="M371.4,337.8 371.6,338.8 372.4,339.2 377.8,339.1 378.7,338.2 377.4,335.8 376.6,335.4 372.3,335.9Z"/>
<path fill="url(#ga)" d="M353.9,167.6 355.7,165.7 355.5,164.4 354.8,163.9 351.4,164.1 350.9,165.1 351.7,167.2Z"/>
<path fill="url(#gb)" d="M390.5,295.9 388.9,296.1 386.7,301.1 387.1,302.0 391.1,304.1 395.2,301.2 395.5,300.4Z"/>
<path fill="url(#ga)" d="M418.8,214.3 417.2,214.1 413.5,218.7 413.7,219.6 416.4,223.2 418.2,222.9 421.7,218.8Z"/>
<path fill="url(#gb)" d="M329.9,290.0 328.7,290.3 326.7,292.4 326.5,293.4 327.9,296.6 332.5,298.1 333.8,296.8 332.2,291.3Z"/>
<path fill="url(#gb)" d="M377.9,315.8 376.6,315.2 372.8,316.8 372.9,317.7 375.1,321.7 377.3,321.9 378.2,321.2 378.9,318.2Z"/>
<path fill="url(#gb)" d="M337.9,337.4 336.4,335.8 330.8,336.3 330.0,336.7 329.2,338.6 330.2,339.5 337.0,339.5 337.9,338.8Z"/>
<path fill="url(#gb)" d="M413.8,181.3 412.8,181.7 412.6,182.8 415.4,186.8 416.2,187.2 418.5,186.6 418.9,185.8 418.3,182.1Z"/>
<path fill="url(#gd)" d="M441.2,232.9 442.2,233.0 445.6,231.5 446.3,228.9 442.6,223.6 441.7,223.1 439.7,223.5 439.1,224.5 439.6,231.5Z"/>
<path fill="url(#gb)" d="M375.2,322.9 372.9,324.5 372.7,325.7 374.0,327.9 377.1,328.3 377.8,327.3 377.4,323.8 376.8,323.1Z"/>
<path fill="url(#gd)" d="M368.6,325.2 367.3,326.0 367.6,330.4 368.1,331.1 369.6,331.6 372.1,329.0 372.3,328.1 371.0,325.7Z"/>
<path fill="url(#gd)" d="M393.1,209.4 393.1,211.1 398.2,214.2 399.2,214.0 400.6,212.5 400.3,209.0 398.4,207.7 395.1,207.7Z"/>
<path fill="url(#gd)" d="M343.1,325.3 342.6,326.6 344.0,327.9 349.9,327.6 350.9,326.6 350.0,322.9 349.1,322.2Z"/>
<path fill="url(#gd)" d="M346.9,215.4 347.1,216.3 347.8,216.7 352.7,216.8 353.5,216.3 355.3,211.0 352.8,207.7 351.7,207.6 348.4,209.3Z"/>
<path fill="url(#ga)" d="M369.7,210.4 369.0,209.5 366.7,209.3 365.4,212.2 365.5,213.2 369.4,214.1 369.9,213.3Z"/>
<path fill="url(#gb)" d="M388.5,292.7 386.3,289.0 382.2,288.3 378.8,291.6 378.8,293.6 379.8,294.3 387.8,293.9Z"/>
<path fill="url(#gc)" d="M330.9,228.9 329.7,229.2 327.6,232.9 331.4,238.0 332.3,238.4 334.7,236.8 334.9,230.9 334.3,230.0Z"/>
<path fill="url(#gd)" d="M431.2,223.7 427.9,224.7 427.1,227.1 428.3,228.5 431.3,228.5 432.1,228.0 433.0,225.1Z"/>
<path fill="url(#gc)" d="M403.7,221.6 405.1,221.6 408.1,218.6 408.3,217.7 406.8,214.4 401.9,213.3 399.5,215.7 399.3,217.8Z"/>
<path fill="url(#ga)" d="M355.7,229.9 357.0,230.1 360.0,227.9 360.0,222.1 359.3,221.2 356.7,221.4 354.2,225.4 354.5,228.4Z"/>
<path fill="url(#ga)" d="M327.0,160.9 325.2,159.0 324.1,159.0 319.9,163.4 319.8,164.6 320.6,165.2 327.4,165.5 327.9,164.4Z"/>
<path fill="url(#ga)" d="M433.9,150.0 435.0,150.1 435.6,149.2 435.4,142.6 434.4,141.6 431.6,142.6 430.4,147.0 430.8,147.9Z"/>
<path fill="url(#gb)" d="M336.3,282.9 335.9,282.0 335.0,281.7 329.1,283.9 328.8,284.8 329.7,288.5 332.4,289.5 335.5,288.0Z"/>
<path fill="url(#gc)" d="M337.9,253.1 338.9,252.1 338.6,248.2 333.4,247.3 331.9,249.4 333.8,252.8 334.6,253.3Z"/>
<path fill="url(#ga)" d="M336.5,278.6 337.7,278.9 339.1,277.8 340.1,272.0 339.6,271.2 335.5,269.5 332.2,271.2 331.7,272.2Z"/>
<path fill="url(#gd)" d="M331.2,300.3 330.6,299.0 327.2,298.2 324.2,301.5 324.7,304.1 329.5,305.3Z"/>
<path fill="url(#ga)" d="M450.2,184.9 455.2,187.1 456.4,186.8 457.9,184.1 456.3,178.5 454.6,177.9 452.0,178.9 449.9,183.6Z"/>
<path fill="url(#gc)" d="M358.2,183.9 358.8,183.2 358.6,182.3 354.1,179.1 353.1,179.3 350.7,181.7 351.1,183.3 354.7,185.3Z"/>
<path fill="url(#gb)" d="M366.1,198.5 367.1,198.8 367.9,198.3 368.7,193.9 365.7,190.5 363.6,190.4 361.6,192.7 361.4,193.6Z"/>
<path fill="url(#gb)" d="M441.3,196.6 441.1,197.6 441.7,198.3 446.3,199.1 447.2,198.6 448.1,196.7 447.2,195.6 442.8,195.5Z"/>
<path fill="url(#ga)" d="M409.0,289.1 408.2,290.3 408.5,292.1 409.3,292.8 416.7,292.5 417.6,291.7 417.7,289.3 415.1,287.8Z"/>
<path fill="url(#gd)" d="M337.8,210.3 337.3,211.1 337.8,212.1 344.2,216.5 345.6,216.2 347.2,209.9 346.7,208.9 342.2,207.0Z"/>
<path fill="url(#ga)" d="M376.8,199.9 377.1,201.3 382.5,204.9 383.4,205.0 384.6,204.2 385.4,200.8 380.3,196.4 378.9,196.6Z"/>
<path fill="url(#ga)" d="M447.5,266.1 446.7,267.0 447.0,268.8 451.5,270.6 452.6,270.3 453.3,267.8 451.8,265.6Z"/>
<path fill="url(#gg)" d="M366.6,172.3 367.1,173.7 371.7,174.9 374.2,173.5 375.1,171.1 374.6,170.3 369.1,167.4 368.2,168.0Z"/>
<path fill="url(#gc)" d="M426.7,154.2 425.4,154.2 423.0,156.4 422.8,157.4 423.4,158.1 428.3,160.2 430.4,158.5 430.7,157.5Z"/>
<path fill="url(#ga)" d="M327.4,282.7 328.3,282.8 334.6,280.5 335.3,279.8 335.1,278.8 329.4,272.0 328.4,272.2 326.9,273.8 326.5,281.5Z"/>
<path fill="url(#gf)" d="M418.9,292.6 419.6,294.8 423.3,296.6 427.5,294.1 428.1,290.2 426.8,289.0 420.0,289.8 419.2,290.5Z"/>
<path fill="url(#gb)" d="M436.7,194.4 435.5,192.1 434.5,192.2 431.9,194.2 432.0,195.9 433.1,196.4 436.2,195.3Z"/>
<path fill="url(#ga)" d="M442.2,271.4 445.2,269.0 445.5,266.9 444.9,266.1 441.0,264.8 439.8,265.5 439.6,266.5 441.0,270.8Z"/>
<path fill="url(#gd)" d="M420.5,142.5 416.8,141.1 415.8,141.3 413.4,143.7 414.0,146.9 416.4,148.0 417.3,147.9 420.5,143.9Z"/>
<path fill="url(#gc)" d="M371.4,215.4 370.2,215.8 369.3,218.4 370.6,220.7 371.5,221.1 373.7,220.5 374.8,218.4 373.8,216.3Z"/>
<path fill="url(#ga)" d="M328.1,250.4 327.9,249.3 326.9,248.9 322.3,251.2 321.3,253.1 321.4,254.1 323.5,256.0 325.8,255.7Z"/>
<path fill="url(#gd)" d="M394.0,181.0 393.1,182.0 393.9,184.1 398.8,186.3 401.0,185.5 401.9,181.2 401.3,180.2Z"/>
<path fill="url(#gb)" d="M425.3,206.7 424.7,207.4 424.8,208.3 429.4,212.6 430.5,212.1 432.7,207.8 432.4,206.9 430.7,205.9Z"/>
<path fill="url(#ga)" d="M343.9,262.9 344.5,259.8 343.6,259.4 340.5,259.5 339.6,260.8 340.0,261.7 343.0,263.4Z"/>
<path fill="url(#ga)" d="M355.2,257.4 353.2,261.2 353.3,262.1 357.3,266.9 358.4,267.1 363.0,264.9 363.2,259.6 359.0,256.1Z"/>
<path fill="url(#ga)" d="M394.0,162.0 393.1,162.8 393.3,164.4 396.4,166.2 397.5,166.0 397.8,165.0 396.8,162.2Z"/>
<path fill="url(#gb)" d="M429.9,281.4 430.3,280.6 430.2,276.3 426.5,274.4 425.5,274.5 423.3,279.2 423.5,280.1 427.5,282.8Z"/>
<path fill="url(#ga)" d="M451.2,146.4 450.3,145.8 449.5,146.2 448.1,150.4 448.6,151.4 451.1,152.2 453.0,151.0 453.4,150.2Z"/>
<path fill="url(#ga)" d="M335.8,330.6 330.7,329.0 330.1,329.8 330.7,334.5 331.6,334.9 335.7,334.3 336.1,333.5Z"/>
<path fill="url(#ga)" d="M344.9,179.8 345.6,178.5 344.3,175.4 339.6,176.6 338.9,177.2 339.0,179.7 340.4,181.1Z"/>
<path fill="url(#ga)" d="M437.8,186.2 438.9,185.8 439.0,184.6 437.3,183.6 436.4,183.7 435.8,185.4Z"/>
<path fill="url(#gd)" d="M412.6,178.8 413.4,179.8 418.7,180.3 421.6,177.8 421.8,176.9 418.2,173.6 417.3,173.4 412.7,175.9Z"/>
<path fill="url(#ga)" d="M423.6,334.9 422.8,335.8 422.5,338.5 423.0,339.3 429.0,339.5 429.9,339.0 429.6,336.9 426.8,334.6Z"/>
<path fill="url(#gb)" d="M463.1,192.7 462.5,193.6 462.7,197.0 465.4,199.7 466.7,199.8 467.3,198.9 467.2,191.9 466.0,191.3Z"/>
<path fill="url(#gd)" d="M456.2,252.2 455.5,253.4 456.7,258.6 459.5,259.8 462.6,257.2 462.8,256.1 458.7,251.7Z"/>
<path fill="url(#gb)" d="M449.5,332.0 449.1,330.9 447.7,330.5 443.6,332.6 446.6,339.3 447.8,339.3 448.5,338.7Z"/>
<path fill="url(#gb)" d="M436.5,332.1 440.3,331.9 440.5,331.0 438.5,326.2 437.4,326.2 433.8,328.8 434.0,330.3Z"/>
<path fill="url(#ga)" d="M378.4,148.2 381.3,145.5 380.9,144.6 377.0,141.2 375.6,141.4 374.8,145.2 377.2,148.0Z"/>
<path fill="url(#ga)" d="M417.7,241.8 412.6,240.3 410.9,241.6 411.1,245.2 412.1,245.7 416.9,245.1 417.9,242.7Z"/>
<path fill="url(#gd)" d="M340.7,253.3 339.4,254.2 340.2,257.8 341.0,258.2 345.1,257.7 345.7,255.2 345.4,254.3Z"/>
<path fill="url(#ga)" d="M431.7,275.9 431.1,276.9 431.4,280.9 436.7,282.5 437.8,282.1 438.1,281.1 436.0,274.5 434.9,274.3Z"/>
<path fill="url(#gb)" d="M433.2,200.4 432.3,200.3 431.6,200.9 431.6,204.3 432.0,205.2 433.4,205.8 434.3,205.1 434.8,202.0Z"/>
<path fill="url(#gb)" d="M424.5,202.3 425.1,203.5 426.4,203.3 427.7,200.3 427.3,199.3 426.2,198.9 425.3,199.2Z"/>
<path fill="url(#gc)" d="M382.9,134.6 381.9,135.1 381.8,136.1 385.3,140.4 386.3,140.7 388.3,139.7 388.3,135.0Z"/>
<path fill="url(#ge)" d="M368.4,141.5 367.5,142.6 368.4,145.8 373.3,144.4 373.8,141.8 373.3,140.8Z"/>
<path fill="url(#gb)" d="M381.0,240.5 377.0,243.1 376.9,245.4 380.1,248.6 381.1,248.5 385.5,245.8 385.4,244.8 382.7,240.9Z"/>
<path fill="url(#ga)" d="M317.2,150.2 316.7,151.1 317.2,152.0 322.5,153.3 325.7,148.0 325.8,147.0 325.0,146.4 322.7,146.1Z"/>
<path fill="url(#ga)" d="M449.0,167.2 448.8,165.9 447.7,165.5 441.1,168.5 441.0,169.7 443.8,173.8 445.4,173.6Z"/>
<path fill="url(#gc)" d="M394.9,205.5 395.9,206.4 398.1,205.9 399.2,200.3 398.7,199.3 397.7,199.2 394.3,200.9Z"/>
<path fill="url(#ga)" d="M376.6,151.6 376.7,149.3 373.6,146.4 368.2,147.9 367.3,149.2 368.2,150.6 375.7,152.1Z"/>
<path fill="url(#gb)" d="M398.2,140.9 400.3,140.9 401.0,140.4 402.2,136.2 401.7,135.0 398.4,134.9 397.6,135.4 397.2,139.8Z"/>
<path fill="url(#ga)" d="M428.1,318.5 426.9,318.3 424.6,320.3 425.1,325.3 427.8,326.3 428.8,325.7 430.2,321.0Z"/>
<path fill="url(#ga)" d="M370.6,223.9 370.6,224.9 373.1,228.7 374.1,229.2 375.0,229.0 376.3,225.8 374.3,222.7 373.4,222.3 371.5,222.8Z"/>
<path fill="url(#gf)" d="M434.5,177.0 434.9,177.8 435.8,178.0 441.4,176.8 442.5,175.5 442.4,174.4 438.4,168.7 437.3,168.7 434.2,170.6Z"/>
<path fill="url(#gf)" d="M457.8,277.7 456.9,277.4 456.0,278.0 455.0,282.4 456.3,284.8 457.1,285.3 461.6,283.5 462.2,282.6Z"/>
<path fill="url(#ga)" d="M379.2,136.6 379.3,135.5 378.5,134.8 374.5,134.8 373.6,135.8 374.2,139.0 375.2,139.8 376.6,139.5Z"/>
<path fill="url(#gb)" d="M338.7,181.1 337.6,180.8 331.9,183.5 331.9,184.5 334.4,188.2 335.6,188.2 339.9,184.8 340.0,182.5Z"/>
<path fill="url(#gg)" d="M430.3,328.3 428.9,328.7 427.3,333.1 427.6,334.1 429.4,335.4 430.5,334.9 432.8,330.7 432.3,329.2Z"/>
<path fill="url(#gb)" d="M467.6,309.7 467.0,308.7 465.9,308.8 462.5,313.6 464.2,319.4 466.4,320.3 467.6,319.3Z"/>
<path fill="url(#ga)" d="M343.5,265.5 337.6,262.2 336.6,263.0 336.4,268.3 340.9,270.4 344.1,268.8 344.5,267.8Z"/>
<path fill="url(#ga)" d="M419.7,156.4 421.1,156.6 424.9,153.1 424.9,151.2 424.0,150.9 419.1,151.5 418.7,154.8Z"/>
<path fill="url(#gd)" d="M442.5,200.0 441.3,200.9 442.0,203.8 445.6,204.7 446.5,204.5 446.9,203.6 446.3,200.9Z"/>
<path fill="url(#ge)" d="M454.8,140.1 455.0,141.6 458.4,143.1 460.4,142.3 460.8,141.4 460.2,134.9 458.6,134.9Z"/>
<path fill="url(#gb)" d="M330.0,181.2 331.3,182.2 336.9,179.8 337.4,178.9 337.0,176.5 336.0,175.7 329.8,175.7 329.4,176.6Z"/>
<path fill="url(#gf)" d="M327.0,145.0 327.3,146.0 328.3,146.3 332.4,144.2 333.1,140.8 331.8,139.9 328.2,140.7Z"/>
<path fill="url(#gb)" d="M461.5,158.7 460.6,159.8 461.2,166.2 462.8,167.3 466.8,167.0 467.3,166.1 467.1,158.3 466.1,157.9Z"/>
<path fill="url(#gf)" d="M328.9,269.7 330.2,270.4 334.6,268.1 335.2,263.5 334.8,262.6 331.7,261.5 327.9,265.1 327.7,266.0Z"/>
<path fill="url(#ga)" d="M343.0,152.3 339.6,153.2 339.0,154.1 339.3,155.4 342.3,157.7 343.3,157.2 344.9,154.1 344.7,153.3Z"/>
<path fill="url(#gc)" d="M401.6,166.0 401.4,167.3 402.9,168.2 405.5,166.6 405.9,165.6 405.3,164.5 403.9,164.1Z"/>
<path fill="url(#gc)" d="M379.4,320.5 380.0,321.8 384.3,322.9 385.7,322.1 385.6,319.5 384.8,318.7 380.3,318.7Z"/>
<path fill="url(#gf)" d="M427.5,203.5 428.1,204.9 430.0,204.7 430.4,203.8 430.1,201.3 428.6,201.1Z"/>
<path fill="url(#ga)" d="M343.4,200.0 342.4,201.0 343.1,205.9 347.9,208.1 351.7,206.3 351.8,205.2 348.6,199.8Z"/>
<path fill="url(#gb)" d="M452.4,152.9 452.0,154.0 453.1,158.3 458.6,158.4 459.4,158.0 459.6,157.1 457.9,151.0 454.9,151.0Z"/>
<path fill="url(#ga)" d="M348.5,296.4 348.2,297.7 349.4,298.5 355.5,296.9 357.8,292.8 357.8,291.8 356.3,290.1 355.2,290.1Z"/>
<path fill="url(#gg)" d="M425.6,270.0 425.1,271.1 425.9,273.0 430.3,275.1 434.0,273.3 431.1,267.0 430.2,267.0Z"/>
<path fill="url(#ga)" d="M331.9,240.7 330.6,239.9 326.4,242.0 325.6,244.9 327.3,248.0 328.9,248.9 330.6,248.7 332.9,246.2Z"/>
<path fill="url(#ga)" d="M382.4,262.8 382.6,264.2 386.2,266.9 389.0,265.4 389.7,263.3 389.1,262.3 384.6,260.3 383.7,260.7Z"/>
<path fill="url(#gd)" d="M316.9,161.9 317.4,162.8 318.5,162.8 323.3,157.8 323.5,156.8 322.4,155.1 318.2,153.8 317.1,154.2Z"/>
<path fill="url(#gc)" d="M366.5,182.5 360.8,183.8 360.7,184.8 363.8,189.4 365.8,189.1 368.9,184.5 368.5,183.5Z"/>
<path fill="url(#gd)" d="M365.6,247.8 364.4,247.8 360.1,251.3 359.9,255.1 364.1,258.5 369.8,254.5 368.9,250.4Z"/>
<path fill="url(#gb)" d="M421.9,332.7 422.2,333.6 422.9,334.0 426.1,333.2 427.9,328.7 427.7,327.7 424.7,326.8 423.2,327.3Z"/>
<path fill="url(#ga)" d="M386.2,302.5 384.7,302.9 383.5,307.2 385.5,310.0 386.4,310.4 390.1,308.9 390.5,305.7 390.1,304.9Z"/>
<path fill="url(#gf)" d="M317.2,264.9 316.4,266.0 316.5,271.5 317.0,272.3 325.9,272.7 327.6,271.4 327.8,270.5 325.9,265.4 322.2,263.5Z"/>
<path fill="url(#gd)" d="M451.5,142.0 451.8,140.8 448.9,134.9 445.2,134.8 444.2,140.8 444.5,141.6 449.3,143.4Z"/>
<path fill="url(#ga)" d="M455.5,316.5 453.9,316.2 450.8,319.7 455.6,324.5 457.9,323.7 458.7,322.2Z"/>
<path fill="url(#gg)" d="M357.5,147.3 358.1,146.3 357.0,142.3 351.9,143.2 351.3,147.4 351.8,148.3 354.2,149.2Z"/>
<path fill="url(#gc)" d="M376.7,155.5 374.0,159.1 374.6,161.6 376.7,162.9 377.8,162.8 379.7,160.7 377.8,155.4Z"/>
<path fill="url(#ga)" d="M356.9,271.8 355.7,271.1 350.7,273.2 350.3,277.8 357.0,280.1 358.0,279.8 359.1,278.2Z"/>
<path fill="url(#ga)" d="M331.3,305.6 331.5,306.5 332.4,307.0 338.7,305.5 339.3,304.7 339.4,302.4 335.2,298.9 334.2,298.8 332.9,299.8Z"/>
<path fill="url(#gd)" d="M322.2,300.1 323.4,300.0 326.1,297.0 325.3,294.1 324.6,293.4 323.0,293.5 319.8,297.6 320.1,298.8Z"/>
<path fill="url(#gg)" d="M386.4,229.6 386.7,230.6 391.3,234.4 392.1,234.0 395.5,229.5 394.2,227.6 389.2,226.6 386.9,227.6Z"/>
<path fill="url(#gg)" d="M329.4,172.6 330.2,173.9 335.7,174.0 336.3,173.2 337.0,169.0 336.1,168.4 330.6,168.5 330.0,169.2Z"/>
<path fill="url(#gc)" d="M341.6,138.3 340.3,138.3 338.7,140.7 341.4,144.6 342.4,144.9 343.4,143.9 342.9,139.7Z"/>
<path fill="url(#ga)" d="M450.5,308.4 449.5,305.8 443.7,303.9 441.6,305.8 444.3,310.7 445.1,311.2 450.1,309.3Z"/>
<path fill="url(#gd)" d="M394.3,333.2 393.7,331.7 392.9,331.3 386.8,332.5 385.0,338.0 385.2,338.9 386.1,339.4 393.2,339.2Z"/>
<path fill="url(#ga)" d="M344.5,187.6 346.0,187.7 349.1,183.6 348.9,182.0 347.1,180.9 341.9,182.5 341.3,183.2 341.4,184.7Z"/>
<path fill="url(#ga)" d="M418.3,312.1 417.3,307.4 414.4,306.2 413.4,306.4 411.1,311.3 411.4,312.4 415.0,314.2 417.4,313.2Z"/>
<path fill="url(#gd)" d="M358.8,211.9 357.0,211.4 356.2,211.7 354.4,216.6 354.6,217.5 356.7,219.8 360.4,219.8 361.2,219.0 361.5,215.1Z"/>
<path fill="url(#gd)" d="M392.0,193.2 390.8,194.0 390.4,197.6 390.9,198.6 393.6,199.6 398.0,197.5 398.1,196.1 396.1,193.8Z"/>
<path fill="url(#gb)" d="M365.4,239.8 365.1,238.4 357.0,233.2 355.9,233.7 353.4,238.8 354.3,240.3 363.6,241.7 364.5,241.3Z"/>
<path fill="url(#gb)" d="M390.1,135.8 390.4,139.8 392.3,140.9 395.0,140.2 395.5,139.3 395.6,135.3 394.8,134.8 390.6,135.0Z"/>
<path fill="url(#gd)" d="M413.4,225.3 414.6,223.5 411.9,219.6 409.2,219.3 406.4,222.2 406.4,223.1 408.5,226.0Z"/>
<path fill="url(#gf)" d="M401.3,177.2 400.8,176.2 395.8,173.3 393.7,174.0 392.2,176.1 392.4,179.0 393.3,179.8 400.5,178.8Z"/>
<path fill="url(#gd)" d="M367.1,278.3 367.3,279.4 370.1,282.6 371.4,282.9 376.8,279.8 377.1,273.6 373.4,269.7 371.0,269.9Z"/>
<path fill="url(#gb)" d="M434.5,238.7 435.3,239.4 436.3,239.1 440.3,235.0 440.2,233.6 438.7,232.8 435.2,233.2 433.6,235.7Z"/>
<path fill="url(#gc)" d="M448.8,319.2 453.8,314.3 452.8,311.4 451.3,310.3 445.3,312.5 444.4,314.4 447.0,318.9Z"/>
<path fill="url(#ga)" d="M340.3,321.2 341.2,323.7 342.3,324.2 348.2,320.8 348.7,319.7 348.1,319.0 343.1,316.3 342.3,316.8Z"/>
<path fill="url(#gg)" d="M333.7,206.1 333.7,207.2 335.5,209.0 337.0,209.1 341.1,205.7 340.8,201.0 339.9,200.6 336.9,200.8Z"/>
<path fill="url(#gf)" d="M333.9,190.8 334.1,189.3 330.1,183.5 329.1,183.4 324.4,186.5 324.9,190.1 326.4,191.4 332.8,191.6Z"/>
<path fill="url(#ga)" d="M464.5,320.9 460.2,322.6 459.4,324.0 463.5,329.3 466.7,328.8 467.4,327.9 467.3,322.0Z"/>
<path fill="url(#gb)" d="M461.9,234.4 462.1,232.9 458.4,229.7 457.3,230.0 455.6,233.0 455.8,233.9 458.4,236.6Z"/>
<path fill="url(#gd)" d="M351.2,149.5 349.9,149.8 348.2,152.7 348.5,153.6 350.4,155.1 353.2,154.7 353.9,153.8 353.5,150.7Z"/>
<path fill="url(#ga)" d="M462.8,134.6 461.7,135.6 462.1,141.3 462.9,141.9 466.8,142.5 467.3,141.6 467.2,135.2 466.4,134.7Z"/>
<path fill="url(#gd)" d="M347.9,335.3 347.1,336.2 347.6,339.0 352.0,339.2 352.8,338.7 352.9,336.4 351.1,334.7Z"/>
<path fill="url(#ga)" d="M394.6,252.5 394.8,251.6 394.2,250.9 390.1,250.8 389.3,251.5 388.8,253.5 392.0,255.6Z"/>
<path fill="url(#gf)" d="M386.5,142.2 384.9,145.5 388.2,149.2 389.3,149.4 391.2,147.5 391.4,142.5 389.2,141.1Z"/>
<path fill="url(#gb)" d="M450.5,239.9 452.8,242.0 456.0,241.5 457.8,239.8 457.6,238.1 454.0,234.3 451.6,234.9 450.9,235.6Z"/>
<path fill="url(#ga)" d="M324.0,233.6 322.2,235.7 322.8,238.0 326.3,240.5 329.8,239.1 330.1,237.9 326.8,233.7Z"/>
<path fill="url(#gb)" d="M366.0,225.8 366.0,224.5 363.1,222.1 361.5,222.3 361.3,227.1 361.8,228.0 364.1,228.2Z"/>
<path fill="url(#gd)" d="M404.2,332.6 404.7,333.4 405.7,333.4 409.0,331.4 409.5,330.5 409.0,327.0 404.2,325.3 403.1,326.3Z"/>
<path fill="url(#gc)" d="M322.3,338.1 323.3,339.4 326.6,339.4 327.4,338.9 329.2,335.6 328.6,329.8 328.2,329.1 324.7,328.7 323.8,329.2Z"/>
<path fill="url(#gb)" d="M349.8,158.9 350.1,160.0 351.3,160.2 355.3,157.8 355.5,156.6 354.5,155.8 350.9,156.3Z"/>
<path fill="url(#gb)" d="M385.6,166.0 386.6,167.1 389.9,166.5 391.3,164.6 391.2,162.3 386.3,161.3 385.8,162.1Z"/>
<path fill="url(#gb)" d="M447.6,216.5 446.9,217.3 447.3,218.4 453.8,223.2 456.1,222.9 456.0,215.9 455.6,215.0 453.8,214.4Z"/>
<path fill="url(#gf)" d="M428.5,304.9 428.0,305.7 428.4,306.6 433.6,309.8 434.5,309.5 437.2,305.7 433.7,301.6Z"/>
<path fill="url(#gb)" d="M441.7,262.8 442.3,264.0 445.3,264.7 445.9,263.9 445.8,260.5 445.0,260.0 442.5,259.8Z"/>
<path fill="url(#ga)" d="M428.3,287.4 429.6,289.0 433.8,288.5 435.6,284.7 435.5,283.7 430.6,282.3 428.5,284.0Z"/>
<path fill="url(#gb)" d="M425.3,257.8 427.1,255.2 424.7,250.8 423.7,250.4 420.5,251.1 419.8,252.5 420.9,258.1 421.8,258.6Z"/>
<path fill="url(#gd)" d="M450.4,179.3 450.0,178.0 445.7,175.3 443.8,175.6 442.7,177.2 443.8,181.8 444.6,182.4 448.5,183.1Z"/>
<path fill="url(#gc)" d="M413.5,302.3 413.2,303.3 413.8,304.2 418.3,305.6 422.8,302.8 422.3,298.6 419.6,296.7 418.7,296.8Z"/>
<path fill="url(#ga)" d="M428.2,134.9 427.3,135.3 427.1,136.3 429.9,140.4 431.3,141.0 433.6,140.1 434.2,136.1 433.9,135.2Z"/>
<path fill="url(#gd)" d="M364.2,266.2 363.2,266.1 358.6,268.3 357.9,269.3 360.5,277.6 361.3,278.3 365.8,278.1 369.2,270.3 368.8,269.2Z"/>
<path fill="url(#gc)" d="M337.8,173.8 338.1,174.8 339.1,175.1 344.2,173.5 344.8,172.2 343.0,169.5 339.5,168.9 338.7,169.6Z"/>
<path fill="url(#gb)" d="M433.7,232.9 433.7,231.8 432.2,230.0 429.4,230.1 428.7,230.7 428.3,233.3 428.9,234.2 432.1,234.7Z"/>
<path fill="url(#gc)" d="M342.9,329.3 341.2,327.9 337.7,330.1 337.7,334.6 338.1,335.4 339.2,335.6 343.2,333.3Z"/>
<path fill="url(#gd)" d="M452.1,246.0 454.7,250.7 455.6,250.9 457.8,249.8 458.0,248.8 455.7,243.3 453.0,243.5Z"/>
<path fill="url(#gf)" d="M406.2,144.2 405.6,144.9 405.4,148.0 408.1,150.4 409.3,150.5 412.4,147.5 411.8,144.4 409.0,143.1Z"/>
<path fill="url(#gd)" d="M364.1,219.4 363.2,220.2 363.6,221.4 367.3,224.3 369.2,223.9 370.0,222.0 368.3,219.3Z"/>
<path fill="url(#gd)" d="M453.6,271.5 454.3,274.1 455.7,275.1 456.9,275.0 460.6,272.2 461.2,267.1 459.9,266.3 454.9,268.1Z"/>
<path fill="url(#gb)" d="M339.3,145.8 339.9,144.4 337.7,141.4 334.8,141.6 334.2,144.4 336.2,146.5 337.2,146.7Z"/>
<path fill="url(#ga)" d="M391.7,182.7 390.5,181.9 384.6,183.4 384.1,184.3 384.3,188.7 388.6,190.3 389.5,190.1 392.1,184.7Z"/>
<path fill="url(#gb)" d="M331.2,138.6 332.1,137.6 332.2,135.5 331.6,134.6 326.1,134.5 325.2,135.1 325.3,137.2 327.1,139.2Z"/>
<path fill="url(#ga)" d="M464.9,243.1 463.6,243.7 463.3,246.7 464.0,247.5 466.4,247.9 467.2,247.0 467.1,244.2 466.5,243.5Z"/>
<path fill="url(#ga)" d="M405.0,207.1 404.0,207.2 402.1,208.5 402.2,211.5 403.0,212.2 406.8,212.9 408.9,210.0 409.0,209.1Z"/>
<path fill="url(#gc)" d="M439.4,244.9 441.4,245.2 443.7,241.4 442.0,237.1 441.2,236.5 440.3,236.7 436.8,240.6Z"/>
<path fill="url(#gf)" d="M358.5,200.5 359.3,201.3 362.9,202.1 364.8,200.4 365.1,199.5 360.6,194.6 359.6,194.3 358.1,194.8 357.6,195.5Z"/>
<path fill="url(#ga)" d="M433.4,265.3 432.9,266.7 435.6,272.5 436.7,272.8 439.1,271.5 439.4,270.5 438.0,266.4Z"/>
<path fill="url(#gc)" d="M418.4,171.4 422.0,174.7 423.0,174.9 427.1,169.3 427.2,168.3 426.1,167.2 421.2,166.6 418.5,168.9Z"/>
<path fill="url(#gd)" d="M411.4,320.7 412.4,320.8 414.0,319.5 414.3,315.9 409.2,313.3 408.5,314.0 407.6,318.0Z"/>
<path fill="url(#gb)" d="M453.8,329.2 453.9,330.4 456.7,332.6 460.5,331.9 461.6,330.4 457.9,325.4 455.6,326.2Z"/>
<path fill="url(#ga)" d="M382.2,237.7 382.3,239.0 383.6,239.3 388.3,236.0 388.5,234.7 386.7,232.9 385.7,232.8Z"/>
<path fill="url(#gd)" d="M376.3,229.4 376.4,230.4 377.3,230.9 384.4,229.8 385.2,229.1 385.4,227.3 382.9,224.7 382.0,224.4 377.8,226.1Z"/>
<path fill="url(#gc)" d="M424.5,304.1 423.5,304.1 419.0,306.9 420.1,311.2 423.8,311.6 424.7,311.1 427.0,306.7 426.5,305.4Z"/>
<path fill="url(#ga)" d="M442.6,193.2 443.3,194.2 446.3,194.3 447.4,193.2 446.5,190.5 443.6,190.2 442.6,191.0Z"/>
<path fill="url(#gd)" d="M365.1,301.1 365.8,301.9 368.5,302.1 370.8,297.9 370.5,297.1 365.8,292.3 364.0,292.8 363.4,293.7Z"/>
<path fill="url(#ga)" d="M415.3,200.1 416.0,200.9 417.5,200.8 420.0,197.5 420.1,196.5 418.7,194.6 415.7,194.3 414.5,195.0Z"/>
<path fill="url(#gf)" d="M354.5,288.2 355.9,287.6 356.6,281.9 349.8,279.6 348.9,279.7 348.3,280.6 348.3,285.7Z"/>
<path fill="url(#gb)" d="M400.4,206.9 401.5,206.9 403.5,205.2 403.6,201.8 401.6,200.6 400.3,201.5 399.5,205.8Z"/>
<path fill="url(#gb)" d="M431.1,263.9 432.0,264.4 433.3,263.8 434.9,259.8 433.9,255.6 433.1,254.9 428.8,255.9 427.3,258.1 427.4,259.0Z"/>
<path fill="url(#gb)" d="M328.6,327.9 330.0,327.1 331.8,320.8 329.9,317.1 329.0,316.6 326.8,317.1 320.6,324.7 323.5,327.5Z"/>
<path fill="url(#ga)" d="M430.2,143.3 429.9,142.2 428.8,142.0 424.5,143.7 424.1,145.0 425.9,147.9 427.0,148.2 429.1,147.2Z"/>
<path fill="url(#ga)" d="M318.0,310.1 323.3,304.6 322.4,301.7 317.6,299.1 316.6,300.1 316.6,309.1 317.0,309.9Z"/>
<path fill="url(#gd)" d="M457.6,241.7 457.3,242.8 459.1,247.6 460.5,248.1 461.6,247.2 462.1,243.0 458.9,241.2Z"/>
<path fill="url(#gg)" d="M383.1,213.2 387.9,214.8 390.8,211.1 390.9,210.2 385.5,206.1 384.4,206.0 383.4,206.7 381.7,210.1Z"/>
<path fill="url(#gc)" d="M378.3,209.6 380.3,209.2 381.4,207.1 381.3,206.0 375.7,202.2 374.5,202.3 374.0,203.1 373.9,206.8Z"/>
<path fill="url(#gb)" d="M419.3,148.0 419.2,149.1 420.0,149.7 423.6,149.4 424.4,148.5 422.9,145.7 422.1,145.2 421.2,145.5Z"/>
<path fill="url(#ga)" d="M391.5,190.0 392.0,191.5 395.7,191.8 397.5,187.6 393.7,185.9Z"/>
<path fill="url(#gg)" d="M420.2,260.8 420.1,261.9 423.6,269.2 424.6,269.2 430.0,265.4 430.0,264.4 426.1,259.5Z"/>
<path fill="url(#gb)" d="M328.4,148.9 327.5,148.5 326.6,149.0 323.9,153.8 324.7,155.4 325.6,155.5 330.4,153.3 330.5,152.0Z"/>
<path fill="url(#gb)" d="M398.8,273.9 399.5,275.0 401.1,275.0 402.7,272.8 402.7,271.8 400.7,270.0 399.7,270.0 399.1,270.7Z"/>
<path fill="url(#ga)" d="M395.1,329.2 394.6,330.4 395.8,332.0 401.6,332.5 402.7,331.8 401.9,326.8 401.2,326.0Z"/>
<path fill="url(#ga)" d="M461.3,334.0 460.3,333.3 457.0,334.2 456.2,338.4 456.6,339.3 461.8,339.5 462.6,339.1 462.8,338.1Z"/>
<path fill="url(#gf)" d="M317.5,311.2 316.5,312.2 316.5,323.3 317.2,324.2 319.0,324.4 325.5,316.6 325.1,315.8 318.9,311.4Z"/>
<path fill="url(#ga)" d="M386.8,294.8 378.5,295.4 378.2,296.4 379.5,299.1 384.1,301.5 385.4,301.3 387.9,296.3 387.7,295.2Z"/>
<path fill="url(#gd)" d="M411.2,174.2 412.3,174.4 416.7,172.0 416.7,169.0 413.4,167.2 410.7,168.4 410.2,173.0Z"/>
<path fill="url(#gb)" d="M395.1,338.0 396.1,339.2 403.6,339.2 404.4,338.3 404.2,335.1 403.3,334.3 396.2,333.7 395.5,334.5Z"/>
<path fill="url(#ge)" d="M317.7,181.1 317.3,182.0 317.9,182.9 323.3,185.5 324.2,185.4 328.8,182.3 327.9,175.5 327.0,175.0 324.1,175.1Z"/>
<path fill="url(#ga)" d="M406.1,318.3 407.3,313.4 401.9,310.4 400.8,310.4 396.9,314.0 396.9,316.4 401.8,320.8 402.8,320.7Z"/>
<path fill="url(#gb)" d="M344.1,310.0 343.3,310.8 342.6,313.5 342.9,314.5 348.8,318.0 349.9,317.9 351.7,312.6 351.5,311.7 348.8,308.8Z"/>
<path fill="url(#gd)" d="M345.2,264.2 345.5,265.4 346.7,265.6 350.2,263.3 350.5,262.1 349.8,261.5 346.8,260.8Z"/>
<path fill="url(#gc)" d="M443.2,247.2 444.2,247.6 450.2,246.1 451.1,242.6 449.4,241.0 444.9,241.9 442.6,245.6Z"/>
<path fill="url(#gc)" d="M347.0,172.8 345.9,174.4 347.3,179.0 349.8,180.1 352.7,177.4 352.9,176.1 349.3,172.7Z"/>
<path fill="url(#ga)" d="M384.9,240.1 384.6,241.5 386.1,243.8 387.0,244.3 393.1,241.2 393.6,240.3 391.8,236.6 390.8,236.1Z"/>
<path fill="url(#gd)" d="M424.8,196.1 425.2,197.4 428.6,198.7 430.6,198.4 431.3,197.4 430.6,194.6 428.5,192.9 426.2,193.3Z"/>
<path fill="url(#gd)" d="M421.6,158.6 420.5,158.8 420.0,159.9 421.4,164.7 422.2,165.2 426.2,165.5 427.2,161.5Z"/>
<path fill="url(#gf)" d="M397.6,159.2 398.4,160.6 401.2,160.2 402.5,157.6 402.4,156.7 400.1,155.0 399.1,155.1Z"/>
<path fill="url(#gf)" d="M434.5,299.8 438.3,304.7 440.0,305.0 442.7,302.9 443.5,299.5 442.0,296.2 439.5,294.9Z"/>
<path fill="url(#gc)" d="M387.1,323.9 385.9,324.4 384.5,328.6 385.9,330.8 386.9,331.1 392.7,329.8 393.0,328.7 391.2,325.2Z"/>
<path fill="url(#gc)" d="M411.1,161.5 408.8,161.5 407.2,163.7 407.7,165.8 409.4,166.9 411.9,166.1 412.4,165.4 412.4,162.8Z"/>
<path fill="url(#ga)" d="M435.4,139.9 436.4,141.2 442.4,141.5 442.9,140.7 443.4,135.3 442.5,134.7 436.4,134.8 435.9,135.6Z"/>
<path fill="url(#gb)" d="M426.6,181.1 423.4,178.5 420.2,181.1 419.9,182.0 420.7,187.0 422.6,187.7 426.5,184.4Z"/>
<path fill="url(#ga)" d="M414.3,162.3 413.6,163.4 413.7,165.6 414.2,166.3 417.5,168.0 420.2,165.8 420.3,164.9 418.8,160.9Z"/>
<path fill="url(#ga)" d="M377.3,171.7 376.0,172.1 375.6,174.0 379.6,178.5 380.9,178.6 382.7,174.9 382.6,173.9Z"/>
<path fill="url(#ga)" d="M408.1,250.0 403.0,249.0 400.1,251.4 399.8,252.4 401.8,256.6 404.8,257.5 408.6,254.6 409.1,252.4Z"/>
<path fill="url(#gg)" d="M377.1,224.5 378.3,224.9 381.6,223.3 381.6,222.4 379.4,218.9 376.2,218.9 375.0,220.7 375.0,221.6Z"/>
<path fill="url(#gb)" d="M427.1,222.6 428.2,223.0 430.4,221.8 430.6,216.5 430.0,215.5 429.0,215.6 424.8,218.6 424.8,219.7Z"/>
<path fill="url(#ga)" d="M372.4,181.7 372.8,182.5 373.7,182.7 378.4,180.7 378.9,180.1 378.7,179.1 374.7,174.7 373.8,174.7 372.3,175.9Z"/>
<path fill="url(#gd)" d="M374.7,268.0 374.7,269.3 378.0,272.8 384.3,272.3 385.1,271.5 385.3,268.2 380.8,264.6 376.5,265.5Z"/>
<path fill="url(#gd)" d="M429.5,191.5 429.7,192.6 431.1,193.5 434.2,191.5 434.4,190.5 433.2,187.7 431.2,187.7Z"/>
<path fill="url(#gc)" d="M389.7,215.4 389.6,216.4 390.7,217.8 395.1,219.1 397.9,217.4 397.6,215.9 392.5,212.7 391.5,213.0Z"/>
<path fill="url(#ga)" d="M366.7,231.1 367.9,231.4 371.3,229.5 371.3,228.5 369.0,225.3 367.5,225.6 365.3,228.5 365.4,229.4Z"/>
<path fill="url(#gb)" d="M444.7,322.2 446.2,319.8 443.5,315.8 442.7,315.5 438.2,316.5 436.7,320.1 438.7,323.4 439.6,323.7Z"/>
<path fill="url(#ga)" d="M381.2,181.7 380.0,181.5 374.4,183.8 373.9,184.5 376.2,190.0 378.7,191.3 379.6,191.1 382.4,188.6 382.5,183.3Z"/>
<path fill="url(#gc)" d="M440.4,281.4 439.9,282.1 440.0,282.9 443.4,285.9 445.6,285.6 447.0,283.2 445.9,279.9 445.2,279.3Z"/>
<path fill="url(#ga)" d="M433.3,197.2 432.7,197.8 432.8,198.8 435.5,200.6 439.2,199.3 439.8,198.5 439.4,197.2 437.5,196.0Z"/>
<path fill="url(#gc)" d="M387.0,311.6 386.3,312.7 387.6,316.4 394.5,316.3 395.4,315.7 395.3,313.8 390.9,310.4Z"/>
<path fill="url(#ge)" d="M419.4,211.6 419.2,213.0 423.0,217.9 423.9,217.7 428.5,214.3 428.3,213.3 423.6,208.8 422.7,208.9Z"/>
<path fill="url(#gb)" d="M316.5,241.4 317.2,242.4 318.4,242.2 321.4,238.2 321.0,236.4 317.6,236.0 316.7,236.4Z"/>
<path fill="url(#gc)" d="M369.7,309.9 371.7,315.4 376.9,313.8 376.6,308.6 375.7,307.5 371.4,307.1Z"/>
<path fill="url(#ga)" d="M445.6,276.3 446.9,276.8 452.3,274.5 452.9,273.7 452.6,272.5 446.7,269.8 445.8,269.9 443.7,272.3Z"/>
<path fill="url(#gb)" d="M399.9,152.7 400.3,153.8 403.9,155.8 407.2,152.1 403.9,149.4 400.5,150.7Z"/>
<path fill="url(#gd)" d="M401.8,161.9 400.9,161.4 399.1,161.9 398.8,162.8 399.5,164.4 400.5,164.7 401.8,163.6Z"/>
<path fill="url(#ga)" d="M416.5,333.5 415.3,334.4 415.0,338.9 415.9,339.3 421.0,339.1 421.4,334.6 420.6,334.1Z"/>
<path fill="url(#ga)" d="M416.5,138.9 417.1,139.7 420.4,140.3 422.8,136.3 422.8,135.3 421.9,134.7 416.5,134.9 415.9,135.8Z"/>
<path fill="url(#gb)" d="M404.5,193.7 403.4,193.6 400.0,195.9 399.6,197.5 400.3,198.6 404.4,200.2 406.8,199.0 407.4,196.1 407.0,195.3Z"/>
<path fill="url(#ga)" d="M379.8,329.6 378.8,330.4 378.0,334.4 381.4,339.3 383.1,339.5 383.8,338.8 385.4,332.0 383.3,329.7Z"/>
<path fill="url(#gd)" d="M348.3,136.1 348.2,135.2 347.4,134.7 342.2,134.7 341.3,135.7 341.6,136.9 343.6,138.0 347.7,137.0Z"/>
<path fill="url(#gb)" d="M362.7,165.9 361.4,166.6 361.4,169.4 364.5,171.6 365.5,171.7 367.1,167.4Z"/>
<path fill="url(#gc)" d="M357.3,174.6 356.3,174.6 354.6,175.9 354.3,177.3 358.3,180.3 359.3,180.5 360.0,179.8 360.8,176.7Z"/>
<path fill="url(#gf)" d="M378.0,152.3 378.9,153.5 385.2,153.4 387.1,151.8 387.4,150.9 383.9,146.8 383.0,146.4 378.6,149.7Z"/>
<path fill="url(#gf)" d="M466.8,233.2 467.6,232.2 467.3,223.4 466.4,223.1 458.0,224.5 457.7,225.4 458.3,227.9 464.2,233.2Z"/>
<path fill="url(#gb)" d="M372.7,257.5 371.3,256.4 370.4,256.4 364.9,260.6 364.9,264.8 370.5,268.4 373.0,267.9 374.9,264.8Z"/>
<path fill="url(#gd)" d="M385.8,199.3 386.9,199.5 388.6,198.3 389.3,192.7 388.6,192.0 383.2,190.4 380.3,192.5 380.1,194.2Z"/>
<path fill="url(#ga)" d="M369.6,152.3 368.6,152.5 368.2,153.3 368.3,156.3 369.0,157.1 373.0,157.6 375.5,154.8 374.9,153.4Z"/>
<path fill="url(#gf)" d="M398.2,299.8 398.2,301.0 401.7,304.8 407.9,301.9 408.5,301.0 407.0,297.3 406.2,296.8 400.5,297.1Z"/>
<path fill="url(#gb)" d="M461.5,298.3 460.7,297.8 459.8,298.1 457.8,301.1 457.8,302.2 459.8,305.5 466.1,306.9 466.5,305.4Z"/>
<path fill="url(#ge)" d="M444.7,248.5 443.9,249.3 444.2,250.8 448.7,254.1 453.4,251.9 453.3,250.9 450.7,247.2Z"/>
<path fill="url(#ga)" d="M369.2,158.6 368.2,158.9 367.9,159.9 369.0,163.4 370.2,164.0 372.8,162.3 373.2,161.3 372.3,159.2Z"/>
<path fill="url(#gd)" d="M354.8,241.7 353.9,242.0 353.6,242.7 354.6,246.5 359.0,249.2 360.0,249.2 364.0,246.1 364.0,243.8 363.4,243.0Z"/>
<path fill="url(#gc)" d="M447.3,259.5 446.8,260.4 447.1,264.6 448.0,265.0 451.3,264.2 451.9,262.1 451.6,261.3 448.5,259.3Z"/>
<path fill="url(#gb)" d="M394.8,221.7 394.1,220.5 391.0,220.1 390.2,224.9 393.9,225.6Z"/>
<path fill="url(#gg)" d="M425.7,317.4 426.2,316.2 424.3,313.0 420.4,312.5 419.5,312.9 419.2,314.3 422.0,318.4 423.8,318.6Z"/>
<path fill="url(#gb)" d="M328.4,218.3 329.4,218.8 331.1,218.2 335.3,211.8 335.1,210.7 331.6,207.7 325.0,209.5 324.3,210.3Z"/>
<path fill="url(#ga)" d="M442.7,233.7 442.1,235.0 444.5,240.3 445.5,240.6 449.4,239.7 450.0,235.3 449.6,234.5 446.3,232.3Z"/>
<path fill="url(#gd)" d="M365.7,150.4 363.2,150.9 360.1,156.3 360.3,157.3 362.2,158.5 366.0,157.9 366.8,157.0 366.6,151.3Z"/>
<path fill="url(#gc)" d="M388.1,245.3 387.6,246.6 389.4,249.0 393.0,249.1 393.9,248.5 393.9,244.0 393.3,243.2 392.4,243.1Z"/>
<path fill="url(#gc)" d="M344.0,290.9 344.0,291.9 346.0,294.8 347.1,295.3 352.3,290.6 352.6,289.7 352.0,288.9 347.3,287.2 345.4,288.4Z"/>
<path fill="url(#gb)" d="M372.5,283.8 372.0,284.5 372.2,285.4 377.7,290.0 378.8,289.8 381.3,287.3 380.6,282.8 377.9,281.3Z"/>
<path fill="url(#gb)" d="M441.7,188.2 442.6,189.0 446.8,188.9 448.8,186.2 448.7,184.9 447.9,184.3 443.6,183.6 442.1,185.1Z"/>
<path fill="url(#ga)" d="M442.5,334.2 441.5,333.6 440.5,334.3 439.8,338.2 440.5,339.2 443.3,339.3 444.1,338.6Z"/>
<path fill="url(#ga)" d="M395.1,281.6 395.1,280.4 394.3,279.8 387.9,278.4 386.7,279.5 386.9,280.4 389.9,284.3 393.8,283.9Z"/>
<path fill="url(#ge)" d="M437.5,222.5 434.8,216.4 432.7,216.0 431.6,217.0 431.5,222.1 434.2,223.9 436.9,223.3Z"/>
<path fill="url(#gd)" d="M381.1,218.0 381.0,218.9 382.0,220.8 383.2,221.3 386.5,217.7 386.7,216.8 386.1,216.0 383.4,215.2Z"/>
<path fill="url(#ga)" d="M377.7,292.3 371.0,286.5 370.1,286.9 367.3,291.0 367.6,291.9 372.4,296.8 377.2,295.7 377.8,294.6Z"/>
<path fill="url(#ge)" d="M402.8,174.4 403.1,173.5 402.3,169.8 399.7,168.2 398.5,168.4 397.0,171.5 397.2,172.5 401.3,175.0Z"/>
<path fill="url(#gc)" d="M346.4,267.6 345.9,268.4 346.2,269.2 349.7,271.8 356.1,269.2 356.7,268.3 352.6,263.8Z"/>
<path fill="url(#ga)" d="M360.9,279.5 358.3,281.7 357.2,288.6 359.5,291.3 362.4,291.9 366.0,290.7 370.0,284.4 366.0,279.8Z"/>
<path fill="url(#gb)" d="M425.2,242.7 426.2,242.5 426.7,241.7 425.7,236.8 425.0,236.2 421.6,236.0 421.1,236.7 420.3,240.6Z"/>
<path fill="url(#ga)" d="M434.8,312.6 433.3,312.3 429.1,316.6 429.2,317.8 431.2,319.7 435.2,319.7 436.0,319.1 437.2,315.9Z"/>
<path fill="url(#gb)" d="M327.6,224.4 326.9,223.8 326.0,224.0 322.1,228.3 322.0,229.2 323.8,232.2 326.4,232.0 328.9,228.5Z"/>
<path fill="url(#ga)" d="M420.8,233.0 421.5,234.4 426.2,234.8 426.8,234.0 427.2,229.6 425.7,228.1 422.7,228.5Z"/>
<path fill="url(#gb)" d="M438.1,191.8 437.5,192.7 438.1,194.8 439.3,195.7 440.2,195.7 441.2,194.4 441.0,191.5 439.9,190.9Z"/>
<path fill="url(#gf)" d="M380.1,322.9 378.7,323.8 379.2,328.0 380.0,328.6 382.8,328.5 384.2,324.4Z"/>
<path fill="url(#gd)" d="M327.1,199.7 324.0,200.7 323.4,201.5 324.7,207.0 325.5,207.7 329.3,206.7 330.0,205.9 328.0,200.3Z"/>
<path fill="url(#ge)" d="M416.3,273.3 415.7,274.3 416.6,277.9 420.2,280.0 422.1,279.5 424.7,273.7 423.6,270.8 422.5,270.5Z"/>
<path fill="url(#gg)" d="M347.3,217.7 346.2,218.8 347.4,221.9 352.2,224.3 353.3,224.1 355.3,220.5 353.7,218.1Z"/>
<path fill="url(#gc)" d="M413.4,331.7 414.7,331.2 415.5,327.5 414.9,326.7 412.2,325.6 410.6,327.1 410.7,330.1 411.2,330.8Z"/>
<path fill="url(#gc)" d="M376.0,333.8 376.9,333.1 377.4,331.0 376.4,329.8 373.7,329.6 371.1,332.9 372.0,334.2Z"/>
<path fill="url(#ga)" d="M409.4,140.9 410.0,141.8 412.1,142.4 414.8,140.1 414.0,135.0 409.9,134.8 409.0,135.2Z"/>
<path fill="url(#gd)" d="M361.1,334.6 360.4,333.7 359.5,333.5 355.2,336.2 354.7,337.0 354.9,338.6 355.8,339.1 361.1,338.9 361.6,338.1Z"/>
<path fill="url(#ga)" d="M388.1,255.0 387.0,254.9 384.5,256.3 384.3,258.5 390.1,261.4 391.1,261.4 392.3,260.1 392.0,257.6Z"/>
<path fill="url(#gd)" d="M390.7,150.2 390.5,151.6 392.9,153.7 397.6,153.4 398.5,152.7 398.7,150.5 397.4,149.1 392.5,148.7Z"/>
<path fill="url(#gg)" d="M409.6,240.4 410.7,240.4 412.5,239.0 413.0,234.9 412.4,234.0 410.6,233.9 406.6,237.5 406.8,238.8Z"/>
<path fill="url(#gg)" d="M345.6,144.0 344.9,144.9 345.3,145.9 348.8,147.9 350.0,147.6 350.6,143.6 350.2,142.7 349.2,142.5Z"/>
<path fill="url(#gb)" d="M460.6,249.7 460.2,251.2 464.3,255.6 466.9,255.5 467.2,250.7 466.8,249.8 462.5,248.8Z"/>
<path fill="url(#ga)" d="M361.3,170.8 360.3,170.6 358.0,171.9 357.5,173.0 358.0,173.8 361.8,175.5 364.1,174.4 364.6,173.5Z"/>
<path fill="url(#gc)" d="M353.6,205.6 353.3,207.0 355.8,210.0 358.2,210.6 363.4,205.8 362.7,203.3 358.4,202.3Z"/>
<path fill="url(#gf)" d="M354.9,194.5 351.9,195.1 349.8,198.7 352.4,203.5 353.2,204.1 357.1,201.2 356.0,195.4Z"/>
<path fill="url(#gf)" d="M324.7,256.9 323.8,257.7 323.1,262.3 323.7,263.0 326.6,264.2 330.7,260.3 331.0,259.3 326.5,256.7Z"/>
<path fill="url(#gf)" d="M376.9,305.9 376.9,306.9 377.7,307.5 382.1,307.0 383.4,302.4 380.4,300.6 379.5,300.6Z"/>
<path fill="url(#ga)" d="M436.0,321.6 435.1,321.1 431.8,321.5 430.3,326.0 430.6,327.0 432.7,327.6 436.9,324.7 437.2,323.6Z"/>
<path fill="url(#gd)" d="M423.8,199.0 423.2,197.8 421.4,197.9 419.5,200.5 419.5,201.6 421.4,203.5 422.6,203.5Z"/>
<path fill="url(#ge)" d="M340.4,251.1 341.1,252.1 345.5,252.9 346.8,252.0 344.3,246.2 343.1,245.5 340.4,247.6Z"/>
<path fill="url(#gb)" d="M339.7,137.3 339.9,135.6 339.3,134.8 334.3,134.7 333.4,135.4 333.2,138.5 334.6,140.0 337.1,139.9Z"/>
<path fill="url(#ge)" d="M364.7,207.7 363.4,207.6 360.1,210.7 360.2,211.8 362.1,213.9 364.0,213.0 365.4,209.0Z"/>
<path fill="url(#ga)" d="M431.3,337.4 432.2,338.1 433.2,337.6 435.1,333.8 434.6,332.6 433.1,332.8 431.1,336.2Z"/>
<path fill="url(#ga)" d="M387.1,158.8 387.7,159.7 390.3,160.2 391.5,159.5 391.7,154.9 389.3,152.6 388.3,152.7 386.8,154.4Z"/>
<path fill="url(#ga)" d="M454.8,313.2 455.8,313.9 461.5,312.9 464.6,309.2 464.6,308.1 463.9,307.5 459.2,306.6 454.3,310.7Z"/>
<path fill="url(#ga)" d="M417.1,262.1 412.6,266.3 414.8,271.5 415.6,272.1 421.0,269.9 421.6,269.1 418.9,262.5Z"/>
<path fill="url(#ga)" d="M411.1,194.4 408.4,196.2 408.2,199.3 412.4,202.2 413.5,202.1 414.5,200.8 413.2,195.3Z"/>
<path fill="url(#gd)" d="M433.2,297.7 434.6,297.7 437.8,294.6 438.0,293.5 434.4,289.9 430.0,290.3 429.4,291.1 429.1,294.4Z"/>
<path fill="url(#gb)" d="M428.3,185.4 427.0,185.4 423.7,188.5 423.9,189.4 426.2,192.2 428.5,191.8 430.2,187.8 430.0,186.8Z"/>
<path fill="url(#ga)" d="M366.0,321.4 366.8,322.1 367.9,321.6 369.2,318.8 368.8,317.6 365.2,318.3 365.0,319.2Z"/>
<path fill="url(#gf)" d="M357.0,156.3 358.5,156.2 361.8,150.5 361.5,149.5 359.1,148.0 354.9,150.6 355.4,154.7Z"/>
<path fill="url(#ge)" d="M381.0,159.2 381.9,159.9 385.1,159.9 385.4,159.0 384.8,155.4 380.3,155.4 380.0,156.3Z"/>
<path fill="url(#gd)" d="M394.2,285.5 393.2,284.8 389.5,285.6 387.7,288.8 389.4,292.2 390.5,292.3 395.1,289.1 395.3,288.2Z"/>
<path fill="url(#ga)" d="M337.8,227.5 337.4,223.2 331.7,219.7 329.1,220.4 328.2,221.7 330.5,227.6 334.8,229.2Z"/>
<path fill="url(#gf)" d="M383.0,166.4 384.2,165.7 384.3,162.3 383.6,161.7 380.8,161.5 378.5,163.9 378.5,165.2 379.2,165.8Z"/>
<path fill="url(#gb)" d="M415.6,233.9 414.4,234.6 414.0,238.5 414.7,239.2 418.1,240.1 418.8,239.3 419.7,235.0 418.9,234.4Z"/>
<path fill="url(#gf)" d="M336.3,199.0 341.1,199.0 341.2,194.3 340.5,193.5 334.7,191.4 333.8,192.4 333.8,196.4Z"/>
<path fill="url(#gb)" d="M333.6,239.2 333.1,240.2 334.4,245.3 339.0,246.2 341.1,244.6 341.2,243.6 339.8,239.4 335.5,238.3Z"/>
<path fill="url(#gc)" d="M341.4,290.8 342.8,290.6 343.9,287.8 339.1,283.0 338.0,282.9 337.3,283.7 337.1,287.9Z"/>
<path fill="url(#gb)" d="M357.7,311.4 357.5,312.5 359.5,316.5 360.4,317.0 361.9,316.5 362.9,312.3 362.7,311.4 360.1,309.4Z"/>
<path fill="url(#ga)" d="M462.0,143.0 459.7,144.5 459.8,148.7 460.6,149.2 467.0,149.0 467.5,148.2 467.2,144.3Z"/>
<path fill="url(#ga)" d="M321.3,262.7 322.0,262.0 322.6,256.6 320.3,254.5 317.1,254.8 316.5,255.7 316.6,263.2 317.7,263.8Z"/>
<path fill="url(#gg)" d="M339.1,338.5 340.0,339.5 345.2,339.4 345.8,338.5 345.7,335.2 344.7,334.4 343.7,334.4 339.4,336.8Z"/>
<path fill="url(#gd)" d="M336.2,229.9 335.7,230.8 335.7,236.7 340.9,238.0 344.1,234.8 343.8,230.6 338.9,228.3Z"/>
</g></g>
<!-- pipe -->
<circle cx="391.3" cy="237.5" r="52.2" fill="#4a4a4a" stroke="#000" stroke-width="2.6"/>
<circle cx="391.5" cy="237.4" r="43.6" fill="#1b1b1b" stroke="#000" stroke-width="1.3"/>
<circle cx="392.5" cy="236" r="26" fill="#2b2b2b"/>
<g clip-path="url(#cWater)">
<rect x="340" y="257.5" width="110" height="40" fill="#36b3e3"/>
</g>
<polygon points="367.5,248.5 415.5,248.5 426.5,257.5 357.5,257.5" fill="#1b5c6c"/>
<polygon points="363,252.5 420,252.5 422,254.5 361,254.5" fill="#20687a"/>
<line x1="357.5" y1="257.3" x2="426.5" y2="257.3" stroke="#0f3d48" stroke-width="0.9"/>

<!-- dimension lines (black) -->
<g stroke="#111" stroke-width="1" fill="none">
<line x1="330" y1="316.5" x2="372" y2="316.5"/>
<line x1="411" y1="316.5" x2="454" y2="316.5"/>
<line x1="449.5" y1="148" x2="449.5" y2="217"/>
<line x1="449.5" y1="256" x2="449.5" y2="326"/>
</g>
<g fill="#111">
<polygon points="328,316 334,314 334,318"/>
<polygon points="456,316 450,314 450,318"/>
<polygon points="449.5,146 447.5,152 451.5,152"/>
<polygon points="449.5,328 447.5,322 451.5,322"/>
</g>
<g filter="url(#fNone)">
<text class="bk" x="373.8" y="319.8" textLength="36.4" lengthAdjust="spacingAndGlyphs">140mm</text>
<text class="bk" transform="translate(452.2,254.4) rotate(-90)" x="0" y="0" textLength="36" lengthAdjust="spacingAndGlyphs">200mm</text>
</g>

<!-- red leader lines -->
<polyline class="rl" points="326,12.5 335,12.5 403.2,288.5"/>
<polyline class="rl" points="313,27 323,27 369,197.5"/>
<polyline class="rl" points="474,12 464,12 379.5,279"/>
<polyline class="rl" points="63,44.5 106,44.5"/>
<polyline class="rl" points="57,200.5 67,200.5 114,145"/>
<line class="rl" x1="67" y1="200.5" x2="111" y2="197.5"/>
<line class="rl" x1="67" y1="200.5" x2="105" y2="239"/>
<polyline class="rl" points="325,422 335,422 337,374"/>
<line class="rl" x1="339" y1="328" x2="341" y2="274"/>
<polyline class="rl" points="441,423 431,423 425,374"/>
<line class="rl" x1="421" y1="335" x2="415.5" y2="287"/>
<line class="rl" x1="412" y1="258" x2="414" y2="275"/>
<g class="rl">
<line x1="716" y1="39" x2="766" y2="39"/>
<line x1="716" y1="124.5" x2="766" y2="124.5"/>
<line x1="764" y1="40" x2="764" y2="75"/>
<line x1="764" y1="89" x2="764" y2="123"/>
</g>
<polygon class="ah" points="379.1,187.6 383.5,194.8 378.4,196.0"/>
<polygon class="ah" points="403.2,288.5 398.8,281.4 403.8,280.1"/>
<polygon class="ah" points="369.2,198.3 364.6,191.3 369.6,189.9"/>
<polygon class="ah" points="405.7,196.8 405.8,205.2 400.8,203.6"/>
<polygon class="ah" points="379.5,279.2 379.4,270.8 384.4,272.4"/>
<polygon class="ah" points="341.2,272.5 343.5,280.6 338.3,280.4"/>
<polygon class="ah" points="411.8,257.5 415.2,265.2 410.1,265.7"/>
<polygon class="ah" points="108.5,44.5 103.0,46.5 103.0,42.5"/>
<polygon class="ah" points="114.0,145.0 111.6,150.9 108.6,148.3"/>
<polygon class="ah" points="111.0,197.5 105.1,199.9 104.9,195.9"/>
<polygon class="ah" points="105.0,239.0 99.4,236.1 102.2,233.3"/>
<polygon class="ah" points="764.0,40.0 767.2,50.0 760.8,50.0"/>
<polygon class="ah" points="764.0,124.0 760.8,114.0 767.2,114.0"/>
<g filter="url(#fNone)"><text class="lb" x="274.7" y="16" textLength="51.5" lengthAdjust="spacingAndGlyphs" >DIA 100mm</text>
<text class="lb" x="252" y="30.6" textLength="55.7" lengthAdjust="spacingAndGlyphs" >Weeping Tile</text>
<text class="lb" x="474" y="15.8" textLength="45.6" lengthAdjust="spacingAndGlyphs" >DIA 82mm</text>
<text class="lb" x="41" y="48" textLength="16.3" lengthAdjust="spacingAndGlyphs" >Sod</text>
<text class="lb" x="0.3" y="204.4" textLength="51.9" lengthAdjust="spacingAndGlyphs" >Layered Soil</text>
<text class="lb" x="269.4" y="427" textLength="49.8" lengthAdjust="spacingAndGlyphs" >Clear Stone</text>
<text class="lb" x="236.2" y="439" textLength="83.0" lengthAdjust="spacingAndGlyphs" >20235 Millimeters ²</text>
<text class="lb" x="446" y="427.4" textLength="99.0" lengthAdjust="spacingAndGlyphs" >Collected Groundwater</text>
<text class="lb" x="751" y="86" textLength="26.5" lengthAdjust="spacingAndGlyphs" >75mm</text></g>
</svg>
</body></html>
